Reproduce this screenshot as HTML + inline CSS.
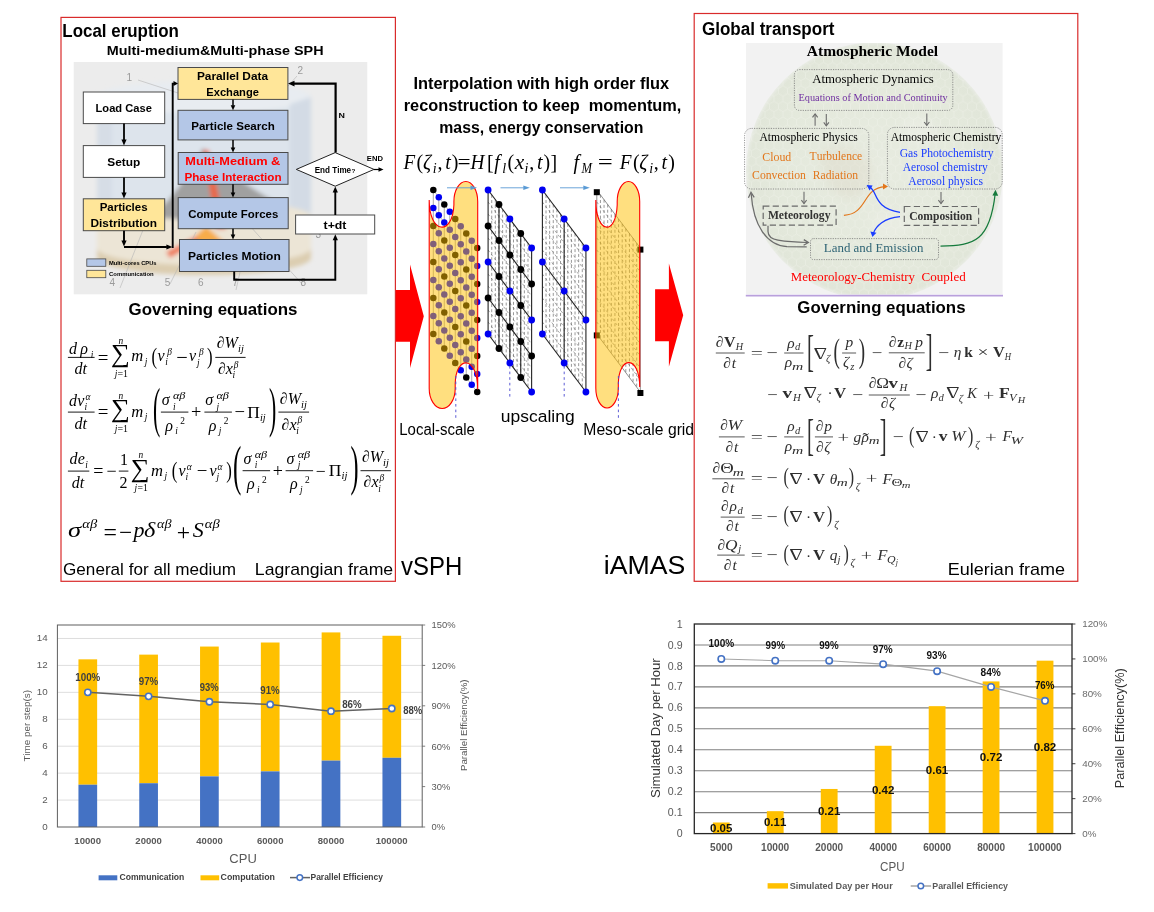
<!DOCTYPE html>
<html lang="en"><head><meta charset="utf-8"><title>vSPH - iAMAS coupling framework</title>
<style>
html,body{margin:0;padding:0;background:#fff;}
body{width:1154px;height:912px;overflow:hidden;font-family:"Liberation Sans","DejaVu Sans",sans-serif;}
svg{display:block;}
text{white-space:pre;font-kerning:none;}
</style></head>
<body>
<svg width="1154" height="912" viewBox="0 0 1154 912">
<defs>
<clipPath id="clipFlow"><rect x="73.5" y="62" width="294" height="232.6"/></clipPath>
<clipPath id="clipAtm"><rect x="745.8" y="43" width="257" height="251.4"/></clipPath>
<filter id="blur2" x="-10%" y="-10%" width="120%" height="120%"><feGaussianBlur stdDeviation="2.2"/></filter>
<filter id="blur3" x="-20%" y="-20%" width="140%" height="140%"><feGaussianBlur stdDeviation="5"/></filter>
<radialGradient id="globeGrad" cx="0.5" cy="0.5" r="0.5">
<stop offset="0" stop-color="#e7ebe0"/><stop offset="0.75" stop-color="#e4e9dc"/><stop offset="0.97" stop-color="#e1e6d9"/><stop offset="1" stop-color="#e9ece5"/>
</radialGradient>
<pattern id="hex" width="9" height="15.6" patternUnits="userSpaceOnUse">
<path d="M0,2.6 L4.5,0 L9,2.6 L9,7.8 L4.5,10.4 L0,7.8 Z M4.5,10.4 L4.5,15.6" fill="none" stroke="#f3f5ee" stroke-width="0.6"/>
</pattern>
</defs>
<rect x="0" y="0" width="1154" height="912" fill="#ffffff"/>
<path d="M394,290.1 L410,290.1 L410,264.5 L423.8,316.2 L410,367.9 L410,341.8 L394,341.8 Z" fill="#ff0000" />
<path d="M655.1,289.2 L668.9,289.2 L668.9,263.6 L683.2,315.2 L668.9,366.7 L668.9,341.2 L655.1,341.2 Z" fill="#ff0000" />
<rect x="61.00" y="17.40" width="334.40" height="563.90" fill="#fff" stroke="#d92b2b" stroke-width="1.2" />
<text transform="translate(62.37,37.20) scale(0.9513,1)" font-size="17.8" font-family='"Liberation Sans", "DejaVu Sans", sans-serif' fill="#000" font-weight="bold" >Local eruption</text>
<text transform="translate(106.74,55.30) scale(1.0718,1)" font-size="13.4" font-family='"Liberation Sans", "DejaVu Sans", sans-serif' fill="#000" font-weight="bold" >Multi-medium&amp;Multi-phase SPH</text>
<g clip-path="url(#clipFlow)">
<rect x="73.50" y="62.00" width="294.00" height="232.60" fill="#ececec" />
<g filter="url(#blur2)">
<path d="M97,97 L97,258 A107,17 0 0 0 311,258 L311,97 A107,16 0 0 0 97,97 Z" fill="#dde4ec" />
<ellipse cx="204" cy="97" rx="107" ry="16" fill="#e8ecf1"/>
<path d="M290,104 L311,97 L311,258 L290,268 Z" fill="#d3dbe5" />
<path d="M97,97 L112,106 L112,266 L97,258 Z" fill="#d6dde6" />
<path d="M97,216 A107,15 0 0 1 311,216 L311,258 A107,17 0 0 1 97,258 Z" fill="#ece5d6" />
<path d="M97,248 A107,17 0 0 0 311,248 L311,258 A107,17 0 0 1 97,258 Z" fill="#dccdb0" />
<path d="M150,217 Q178,196 203,148 Q244,188 288,208 Q240,226 150,217 Z" fill="#a0a0a0" />
<path d="M203,150 L209,150 L226,229 L216,229 Z" fill="#e8674a" />
<path d="M188,243 L206,226 L225,243 Z" fill="#f8ac48" />
<path d="M166,252 L196,236 L199,241 L170,258 Z" fill="#ef7d5e" />
</g>
<line x1="138.00" y1="80.00" x2="178.00" y2="93.00" stroke="#b5b5b5" stroke-width="0.6" />
<line x1="297.00" y1="76.00" x2="288.00" y2="86.00" stroke="#b5b5b5" stroke-width="0.6" />
<line x1="120.00" y1="288.00" x2="143.00" y2="230.00" stroke="#b5b5b5" stroke-width="0.6" />
<line x1="170.00" y1="284.00" x2="196.00" y2="232.00" stroke="#b5b5b5" stroke-width="0.6" />
<line x1="302.00" y1="284.00" x2="250.00" y2="226.00" stroke="#b5b5b5" stroke-width="0.6" />
<line x1="236.00" y1="290.00" x2="240.00" y2="272.00" stroke="#b5b5b5" stroke-width="0.6" />
</g>
<text x="126.50" y="80.50" font-size="10" font-family='"Liberation Sans", "DejaVu Sans", sans-serif' fill="#9a9a9a" >1</text>
<text x="297.50" y="73.80" font-size="10" font-family='"Liberation Sans", "DejaVu Sans", sans-serif' fill="#9a9a9a" >2</text>
<text x="109.50" y="285.80" font-size="10" font-family='"Liberation Sans", "DejaVu Sans", sans-serif' fill="#9a9a9a" >4</text>
<text x="164.80" y="285.80" font-size="10" font-family='"Liberation Sans", "DejaVu Sans", sans-serif' fill="#9a9a9a" >5</text>
<text x="198.00" y="285.80" font-size="10" font-family='"Liberation Sans", "DejaVu Sans", sans-serif' fill="#9a9a9a" >6</text>
<text x="232.50" y="285.80" font-size="10" font-family='"Liberation Sans", "DejaVu Sans", sans-serif' fill="#9a9a9a" >7</text>
<text x="300.50" y="285.80" font-size="10" font-family='"Liberation Sans", "DejaVu Sans", sans-serif' fill="#9a9a9a" >8</text>
<text x="315.50" y="238.20" font-size="10" font-family='"Liberation Sans", "DejaVu Sans", sans-serif' fill="#9a9a9a" >3</text>
<rect x="83.30" y="92.00" width="81.40" height="31.60" fill="#fff" stroke="#4a4a4a" stroke-width="1" />
<rect x="83.30" y="145.60" width="81.40" height="31.80" fill="#fff" stroke="#4a4a4a" stroke-width="1" />
<rect x="83.30" y="198.80" width="81.40" height="31.90" fill="#ffe699" stroke="#4a4a4a" stroke-width="1" />
<rect x="178.00" y="67.50" width="109.90" height="31.90" fill="#ffe699" stroke="#4a4a4a" stroke-width="1" />
<rect x="178.00" y="110.30" width="109.90" height="29.60" fill="#b4c7e7" stroke="#4a4a4a" stroke-width="1" />
<rect x="178.20" y="152.50" width="109.80" height="31.80" fill="#b4c7e7" stroke="#4a4a4a" stroke-width="1" />
<rect x="178.20" y="197.60" width="110.00" height="31.10" fill="#b4c7e7" stroke="#4a4a4a" stroke-width="1" />
<rect x="179.50" y="239.50" width="109.50" height="32.00" fill="#b4c7e7" stroke="#4a4a4a" stroke-width="1" />
<rect x="295.60" y="215.00" width="79.10" height="19.00" fill="#fff" stroke="#4a4a4a" stroke-width="1" />
<path d="M296.3,169.4 L335.2,152.6 L374,169.4 L335.2,186.2 Z" fill="#fff" stroke="#222" stroke-width="1" />
<rect x="86.80" y="258.90" width="19.00" height="7.40" fill="#b4c7e7" stroke="#4a4a4a" stroke-width="0.8" />
<rect x="86.80" y="270.30" width="19.00" height="7.40" fill="#ffe699" stroke="#4a4a4a" stroke-width="0.8" />
<text transform="translate(108.91,265.40) scale(1.0306,1)" font-size="5.6" font-family='"Liberation Sans", "DejaVu Sans", sans-serif' fill="#000" font-weight="bold" >Multi-cores CPUs</text>
<text transform="translate(109.06,275.60) scale(1.0591,1)" font-size="5.6" font-family='"Liberation Sans", "DejaVu Sans", sans-serif' fill="#000" font-weight="bold" >Communication</text>
<path d="M124.00,123.60 L124.00,139.90" fill="none" stroke="#000" stroke-width="1.8" stroke-linejoin="miter"/>
<path d="M124.00,145.40 L121.40,139.40 L126.60,139.40 Z" fill="#000"/>
<path d="M124.00,177.40 L124.00,193.10" fill="none" stroke="#000" stroke-width="1.8" stroke-linejoin="miter"/>
<path d="M124.00,198.60 L121.40,192.60 L126.60,192.60 Z" fill="#000"/>
<path d="M124.00,230.70 L124.00,241.10" fill="none" stroke="#000" stroke-width="1.9" stroke-linejoin="miter"/>
<path d="M124.00,246.60 L121.40,240.60 L126.60,240.60 Z" fill="#000"/>
<path d="M124.00,247.00 L166.90,247.00" fill="none" stroke="#000" stroke-width="1.9" stroke-linejoin="miter"/>
<path d="M172.40,247.00 L166.40,249.60 L166.40,244.40 Z" fill="#000"/>
<path d="M172.70,248.00 L172.70,83.60 L174.00,83.60" fill="none" stroke="#000" stroke-width="1.9" stroke-linejoin="miter"/>
<path d="M178.00,83.60 L173.50,86.10 L173.50,81.10 Z" fill="#000"/>
<path d="M233.00,99.40 L233.00,105.80" fill="none" stroke="#000" stroke-width="1.5" stroke-linejoin="miter"/>
<path d="M233.00,110.30 L230.70,105.30 L235.30,105.30 Z" fill="#000"/>
<path d="M233.00,139.90 L233.00,148.00" fill="none" stroke="#000" stroke-width="1.5" stroke-linejoin="miter"/>
<path d="M233.00,152.50 L230.70,147.50 L235.30,147.50 Z" fill="#000"/>
<path d="M233.00,184.30 L233.00,193.10" fill="none" stroke="#000" stroke-width="1.5" stroke-linejoin="miter"/>
<path d="M233.00,197.60 L230.70,192.60 L235.30,192.60 Z" fill="#000"/>
<path d="M233.00,228.70 L233.00,235.00" fill="none" stroke="#000" stroke-width="1.5" stroke-linejoin="miter"/>
<path d="M233.00,239.50 L230.70,234.50 L235.30,234.50 Z" fill="#000"/>
<path d="M234.20,271.50 L234.20,279.80 L335.30,279.80 L335.30,239.70" fill="none" stroke="#000" stroke-width="1.9" stroke-linejoin="miter"/>
<path d="M335.30,234.20 L337.90,240.20 L332.70,240.20 Z" fill="#000"/>
<path d="M335.30,215.00 L335.30,191.90" fill="none" stroke="#000" stroke-width="1.9" stroke-linejoin="miter"/>
<path d="M335.30,186.40 L337.90,192.40 L332.70,192.40 Z" fill="#000"/>
<path d="M335.60,152.60 L335.60,83.60 L294.00,83.60" fill="none" stroke="#000" stroke-width="2.2" stroke-linejoin="miter"/>
<path d="M288.00,83.60 L294.50,80.80 L294.50,86.40 Z" fill="#000"/>
<path d="M374.00,169.50 L379.00,169.50" fill="none" stroke="#000" stroke-width="1.2" stroke-linejoin="miter"/>
<path d="M383.50,169.50 L378.50,171.70 L378.50,167.30 Z" fill="#000"/>
<text transform="translate(95.55,112.30) scale(0.9603,1)" font-size="11.6" font-family='"Liberation Sans", "DejaVu Sans", sans-serif' fill="#000" font-weight="bold" >Load Case</text>
<text transform="translate(107.26,166.30) scale(1.0251,1)" font-size="11.6" font-family='"Liberation Sans", "DejaVu Sans", sans-serif' fill="#000" font-weight="bold" >Setup</text>
<text transform="translate(99.63,211.20) scale(0.9933,1)" font-size="11.6" font-family='"Liberation Sans", "DejaVu Sans", sans-serif' fill="#000" font-weight="bold" >Particles</text>
<text transform="translate(90.51,226.80) scale(1.0238,1)" font-size="11.6" font-family='"Liberation Sans", "DejaVu Sans", sans-serif' fill="#000" font-weight="bold" >Distribution</text>
<text transform="translate(196.91,79.70) scale(1.0217,1)" font-size="11.6" font-family='"Liberation Sans", "DejaVu Sans", sans-serif' fill="#000" font-weight="bold" >Parallel Data</text>
<text transform="translate(206.25,96.10) scale(0.9622,1)" font-size="11.6" font-family='"Liberation Sans", "DejaVu Sans", sans-serif' fill="#000" font-weight="bold" >Exchange</text>
<text transform="translate(191.23,129.60) scale(0.9974,1)" font-size="11.6" font-family='"Liberation Sans", "DejaVu Sans", sans-serif' fill="#000" font-weight="bold" >Particle Search</text>
<text transform="translate(185.35,165.40) scale(1.1004,1)" font-size="11.6" font-family='"Liberation Sans", "DejaVu Sans", sans-serif' fill="#f00" font-weight="bold" >Multi-Medium &amp;</text>
<text transform="translate(184.42,181.20) scale(1.0055,1)" font-size="11.6" font-family='"Liberation Sans", "DejaVu Sans", sans-serif' fill="#f00" font-weight="bold" >Phase Interaction</text>
<text transform="translate(188.13,217.80) scale(0.9861,1)" font-size="11.6" font-family='"Liberation Sans", "DejaVu Sans", sans-serif' fill="#000" font-weight="bold" >Compute Forces</text>
<text transform="translate(188.00,260.20) scale(1.0367,1)" font-size="11.6" font-family='"Liberation Sans", "DejaVu Sans", sans-serif' fill="#000" font-weight="bold" >Particles Motion</text>
<text transform="translate(323.55,228.70) scale(1.0609,1)" font-size="11.6" font-family='"Liberation Sans", "DejaVu Sans", sans-serif' fill="#000" font-weight="bold" >t+dt</text>
<text transform="translate(314.66,172.90) scale(0.9640,1)" font-size="8.4" font-family='"Liberation Sans", "DejaVu Sans", sans-serif' fill="#000" font-weight="bold" >End Time</text>
<text x="351.40" y="172.90" font-size="6.2" font-family='"Liberation Sans", "DejaVu Sans", sans-serif' fill="#000" font-weight="bold" >?</text>
<text transform="translate(366.79,161.00) scale(1.0325,1)" font-size="7.4" font-family='"Liberation Sans", "DejaVu Sans", sans-serif' fill="#000" font-weight="bold" >END</text>
<text transform="translate(338.61,117.60) scale(1.1953,1)" font-size="7.4" font-family='"Liberation Sans", "DejaVu Sans", sans-serif' fill="#000" font-weight="bold" >N</text>
<text transform="translate(128.61,315.40) scale(0.9822,1)" font-size="17.2" font-family='"Liberation Sans", "DejaVu Sans", sans-serif' fill="#000" font-weight="bold" >Governing equations</text>
<text transform="translate(63.04,574.60) scale(1.0442,1)" font-size="16.4" font-family='"Liberation Sans", "DejaVu Sans", sans-serif' fill="#000" >General for all medium</text>
<text transform="translate(254.85,574.60) scale(1.0768,1)" font-size="16.4" font-family='"Liberation Sans", "DejaVu Sans", sans-serif' fill="#000" >Lagrangian frame</text>
<text x="69.10" y="353.90" font-size="16" font-family='"Liberation Serif", "DejaVu Serif", serif' fill="#000" font-style="italic" >d</text>
<text x="80.20" y="353.90" font-size="16" font-family='"Liberation Serif", "DejaVu Serif", serif' fill="#000" font-style="italic" >ρ</text>
<text x="90.80" y="358.20" font-size="9.4" font-family='"Liberation Serif", "DejaVu Serif", serif' fill="#000" font-style="italic" >i</text>
<line x1="67.90" y1="357.40" x2="94.60" y2="357.40" stroke="#000" stroke-width="0.9" />
<text transform="translate(74.41,374.00) scale(1.0015,1)" font-size="16" font-family='"Liberation Serif", "DejaVu Serif", serif' fill="#000" font-style="italic" >dt</text>
<text transform="translate(97.66,363.68) scale(1.000,1.000)" font-size="18.91" font-family='"Liberation Serif", "DejaVu Serif", serif' fill="#000">=</text>
<text transform="translate(110.91,362.48) scale(1.063,1.037)" font-size="25.00" font-family='"Liberation Serif", "DejaVu Serif", serif' fill="#000">∑</text>
<text x="118.60" y="344.20" font-size="9.4" font-family='"Liberation Serif", "DejaVu Serif", serif' fill="#000" font-style="italic" >n</text>
<text x="114.70" y="376.60" font-size="9.4" font-family='"Liberation Serif", "DejaVu Serif", serif' fill="#000" font-style="italic" >j</text>
<text transform="translate(117.50,376.60) scale(1.0593,1)" font-size="9.4" font-family='"Liberation Serif", "DejaVu Serif", serif' fill="#000" >=1</text>
<text transform="translate(131.30,361.30) scale(1.0384,1)" font-size="16" font-family='"Liberation Serif", "DejaVu Serif", serif' fill="#000" font-style="italic" >m</text>
<text x="144.80" y="364.60" font-size="9.4" font-family='"Liberation Serif", "DejaVu Serif", serif' fill="#000" font-style="italic" >j</text>
<text transform="translate(151.56,364.01) scale(0.930,1.250)" font-size="18.00" font-family='"Liberation Serif", "DejaVu Serif", serif' fill="#000">(</text>
<text x="157.40" y="361.30" font-size="16" font-family='"Liberation Serif", "DejaVu Serif", serif' fill="#000" font-style="italic" >v</text>
<text x="167.30" y="355.40" font-size="9.4" font-family='"Liberation Serif", "DejaVu Serif", serif' fill="#000" font-style="italic" >β</text>
<text x="165.30" y="365.40" font-size="9.4" font-family='"Liberation Serif", "DejaVu Serif", serif' fill="#000" font-style="italic" >i</text>
<text transform="translate(176.18,364.18) scale(1.000,1.000)" font-size="20.42" font-family='"Liberation Serif", "DejaVu Serif", serif' fill="#000">−</text>
<text x="189.00" y="361.30" font-size="16" font-family='"Liberation Serif", "DejaVu Serif", serif' fill="#000" font-style="italic" >v</text>
<text x="198.90" y="355.40" font-size="9.4" font-family='"Liberation Serif", "DejaVu Serif", serif' fill="#000" font-style="italic" >β</text>
<text x="197.00" y="365.80" font-size="9.4" font-family='"Liberation Serif", "DejaVu Serif", serif' fill="#000" font-style="italic" >j</text>
<text transform="translate(207.06,364.01) scale(0.930,1.250)" font-size="18.00" font-family='"Liberation Serif", "DejaVu Serif", serif' fill="#000">)</text>
<text x="216.70" y="348.30" font-size="16" font-family='"Liberation Serif", "DejaVu Serif", serif' fill="#000" font-style="italic" >∂</text>
<text x="224.60" y="348.30" font-size="16" font-family='"Liberation Serif", "DejaVu Serif", serif' fill="#000" font-style="italic" >W</text>
<text transform="translate(238.01,352.00) scale(1.1184,1)" font-size="9.4" font-family='"Liberation Serif", "DejaVu Serif", serif' fill="#000" font-style="italic" >ij</text>
<line x1="215.30" y1="357.40" x2="245.60" y2="357.40" stroke="#000" stroke-width="0.9" />
<text x="217.90" y="374.00" font-size="16" font-family='"Liberation Serif", "DejaVu Serif", serif' fill="#000" font-style="italic" >∂</text>
<text x="225.80" y="374.00" font-size="16" font-family='"Liberation Serif", "DejaVu Serif", serif' fill="#000" font-style="italic" >x</text>
<text x="233.80" y="367.60" font-size="9.4" font-family='"Liberation Serif", "DejaVu Serif", serif' fill="#000" font-style="italic" >β</text>
<text x="232.60" y="378.20" font-size="9.4" font-family='"Liberation Serif", "DejaVu Serif", serif' fill="#000" font-style="italic" >i</text>
<text x="69.10" y="406.20" font-size="16" font-family='"Liberation Serif", "DejaVu Serif", serif' fill="#000" font-style="italic" >d</text>
<text x="77.20" y="406.20" font-size="16" font-family='"Liberation Serif", "DejaVu Serif", serif' fill="#000" font-style="italic" >v</text>
<text x="85.60" y="400.40" font-size="9.4" font-family='"Liberation Serif", "DejaVu Serif", serif' fill="#000" font-style="italic" >α</text>
<text x="84.40" y="410.40" font-size="9.4" font-family='"Liberation Serif", "DejaVu Serif", serif' fill="#000" font-style="italic" >i</text>
<line x1="67.90" y1="412.10" x2="94.60" y2="412.10" stroke="#000" stroke-width="0.9" />
<text transform="translate(74.41,429.30) scale(1.0015,1)" font-size="16" font-family='"Liberation Serif", "DejaVu Serif", serif' fill="#000" font-style="italic" >dt</text>
<text transform="translate(97.66,418.38) scale(1.000,1.000)" font-size="18.91" font-family='"Liberation Serif", "DejaVu Serif", serif' fill="#000">=</text>
<text transform="translate(110.91,417.43) scale(1.063,1.028)" font-size="25.00" font-family='"Liberation Serif", "DejaVu Serif", serif' fill="#000">∑</text>
<text x="118.60" y="399.40" font-size="9.4" font-family='"Liberation Serif", "DejaVu Serif", serif' fill="#000" font-style="italic" >n</text>
<text x="114.70" y="431.80" font-size="9.4" font-family='"Liberation Serif", "DejaVu Serif", serif' fill="#000" font-style="italic" >j</text>
<text transform="translate(117.50,431.80) scale(1.0593,1)" font-size="9.4" font-family='"Liberation Serif", "DejaVu Serif", serif' fill="#000" >=1</text>
<text transform="translate(131.30,416.60) scale(1.0384,1)" font-size="16" font-family='"Liberation Serif", "DejaVu Serif", serif' fill="#000" font-style="italic" >m</text>
<text x="144.80" y="420.00" font-size="9.4" font-family='"Liberation Serif", "DejaVu Serif", serif' fill="#000" font-style="italic" >j</text>
<text transform="translate(153.04,425.67) scale(0.991,2.461)" font-size="22.00" font-family='"Liberation Serif", "DejaVu Serif", serif' fill="#000">(</text>
<text x="161.80" y="405.40" font-size="16" font-family='"Liberation Serif", "DejaVu Serif", serif' fill="#000" font-style="italic" >σ</text>
<text transform="translate(172.94,399.20) scale(1.2980,1)" font-size="9.4" font-family='"Liberation Serif", "DejaVu Serif", serif' fill="#000" font-style="italic" >αβ</text>
<text x="173.10" y="409.60" font-size="9.4" font-family='"Liberation Serif", "DejaVu Serif", serif' fill="#000" font-style="italic" >i</text>
<line x1="160.90" y1="412.10" x2="188.40" y2="412.10" stroke="#000" stroke-width="0.9" />
<text x="165.30" y="430.60" font-size="16" font-family='"Liberation Serif", "DejaVu Serif", serif' fill="#000" font-style="italic" >ρ</text>
<text x="175.30" y="434.40" font-size="9.4" font-family='"Liberation Serif", "DejaVu Serif", serif' fill="#000" font-style="italic" >i</text>
<text x="180.20" y="424.40" font-size="9.4" font-family='"Liberation Serif", "DejaVu Serif", serif' fill="#000" >2</text>
<text transform="translate(190.99,418.17) scale(1.000,1.000)" font-size="18.27" font-family='"Liberation Serif", "DejaVu Serif", serif' fill="#000">+</text>
<text x="205.30" y="405.40" font-size="16" font-family='"Liberation Serif", "DejaVu Serif", serif' fill="#000" font-style="italic" >σ</text>
<text transform="translate(216.44,399.20) scale(1.2980,1)" font-size="9.4" font-family='"Liberation Serif", "DejaVu Serif", serif' fill="#000" font-style="italic" >αβ</text>
<text x="216.60" y="409.60" font-size="9.4" font-family='"Liberation Serif", "DejaVu Serif", serif' fill="#000" font-style="italic" >j</text>
<line x1="204.40" y1="412.10" x2="231.90" y2="412.10" stroke="#000" stroke-width="0.9" />
<text x="208.80" y="430.60" font-size="16" font-family='"Liberation Serif", "DejaVu Serif", serif' fill="#000" font-style="italic" >ρ</text>
<text x="218.80" y="434.40" font-size="9.4" font-family='"Liberation Serif", "DejaVu Serif", serif' fill="#000" font-style="italic" >j</text>
<text x="223.70" y="424.40" font-size="9.4" font-family='"Liberation Serif", "DejaVu Serif", serif' fill="#000" >2</text>
<text transform="translate(234.57,418.31) scale(1.000,1.000)" font-size="18.70" font-family='"Liberation Serif", "DejaVu Serif", serif' fill="#000">−</text>
<text transform="translate(247.20,418.10) scale(1.0918,1)" font-size="16" font-family='"Liberation Serif", "DejaVu Serif", serif' fill="#000" >Π</text>
<text transform="translate(259.93,421.40) scale(1.0961,1)" font-size="9.4" font-family='"Liberation Serif", "DejaVu Serif", serif' fill="#000" font-style="italic" >ij</text>
<text transform="translate(269.10,425.67) scale(0.991,2.461)" font-size="22.00" font-family='"Liberation Serif", "DejaVu Serif", serif' fill="#000">)</text>
<text x="279.80" y="404.00" font-size="16" font-family='"Liberation Serif", "DejaVu Serif", serif' fill="#000" font-style="italic" >∂</text>
<text x="287.70" y="404.00" font-size="16" font-family='"Liberation Serif", "DejaVu Serif", serif' fill="#000" font-style="italic" >W</text>
<text transform="translate(301.01,407.60) scale(1.1184,1)" font-size="9.4" font-family='"Liberation Serif", "DejaVu Serif", serif' fill="#000" font-style="italic" >ij</text>
<line x1="278.40" y1="412.10" x2="309.10" y2="412.10" stroke="#000" stroke-width="0.9" />
<text x="281.60" y="429.50" font-size="16" font-family='"Liberation Serif", "DejaVu Serif", serif' fill="#000" font-style="italic" >∂</text>
<text x="289.50" y="429.50" font-size="16" font-family='"Liberation Serif", "DejaVu Serif", serif' fill="#000" font-style="italic" >x</text>
<text x="297.50" y="423.20" font-size="9.4" font-family='"Liberation Serif", "DejaVu Serif", serif' fill="#000" font-style="italic" >β</text>
<text x="296.30" y="433.80" font-size="9.4" font-family='"Liberation Serif", "DejaVu Serif", serif' fill="#000" font-style="italic" >i</text>
<text x="69.60" y="464.40" font-size="16" font-family='"Liberation Serif", "DejaVu Serif", serif' fill="#000" font-style="italic" >d</text>
<text x="77.80" y="464.40" font-size="16" font-family='"Liberation Serif", "DejaVu Serif", serif' fill="#000" font-style="italic" >e</text>
<text x="85.20" y="467.60" font-size="9.4" font-family='"Liberation Serif", "DejaVu Serif", serif' fill="#000" font-style="italic" >i</text>
<line x1="67.90" y1="471.10" x2="89.30" y2="471.10" stroke="#000" stroke-width="0.9" />
<text transform="translate(71.81,487.80) scale(1.0015,1)" font-size="16" font-family='"Liberation Serif", "DejaVu Serif", serif' fill="#000" font-style="italic" >dt</text>
<text transform="translate(93.30,477.09) scale(1.000,1.000)" font-size="18.05" font-family='"Liberation Serif", "DejaVu Serif", serif' fill="#000">=</text>
<text transform="translate(106.50,477.09) scale(1.000,1.000)" font-size="18.05" font-family='"Liberation Serif", "DejaVu Serif", serif' fill="#000">−</text>
<text x="120.00" y="465.00" font-size="16" font-family='"Liberation Serif", "DejaVu Serif", serif' fill="#000" >1</text>
<line x1="118.80" y1="471.10" x2="128.40" y2="471.10" stroke="#000" stroke-width="0.9" />
<text x="119.60" y="487.80" font-size="16" font-family='"Liberation Serif", "DejaVu Serif", serif' fill="#000" >2</text>
<text transform="translate(130.71,476.53) scale(1.057,1.028)" font-size="25.00" font-family='"Liberation Serif", "DejaVu Serif", serif' fill="#000">∑</text>
<text x="138.60" y="458.20" font-size="9.4" font-family='"Liberation Serif", "DejaVu Serif", serif' fill="#000" font-style="italic" >n</text>
<text x="134.60" y="490.80" font-size="9.4" font-family='"Liberation Serif", "DejaVu Serif", serif' fill="#000" font-style="italic" >j</text>
<text transform="translate(137.51,490.80) scale(1.0370,1)" font-size="9.4" font-family='"Liberation Serif", "DejaVu Serif", serif' fill="#000" >=1</text>
<text transform="translate(151.00,475.50) scale(1.0384,1)" font-size="16" font-family='"Liberation Serif", "DejaVu Serif", serif' fill="#000" font-style="italic" >m</text>
<text x="164.60" y="478.80" font-size="9.4" font-family='"Liberation Serif", "DejaVu Serif", serif' fill="#000" font-style="italic" >j</text>
<text transform="translate(171.76,478.07) scale(0.930,1.287)" font-size="18.00" font-family='"Liberation Serif", "DejaVu Serif", serif' fill="#000">(</text>
<text x="178.40" y="475.50" font-size="16" font-family='"Liberation Serif", "DejaVu Serif", serif' fill="#000" font-style="italic" >v</text>
<text x="186.80" y="469.60" font-size="9.4" font-family='"Liberation Serif", "DejaVu Serif", serif' fill="#000" font-style="italic" >α</text>
<text x="185.60" y="479.60" font-size="9.4" font-family='"Liberation Serif", "DejaVu Serif", serif' fill="#000" font-style="italic" >i</text>
<text transform="translate(196.76,477.38) scale(1.000,1.000)" font-size="18.91" font-family='"Liberation Serif", "DejaVu Serif", serif' fill="#000">−</text>
<text x="209.40" y="475.50" font-size="16" font-family='"Liberation Serif", "DejaVu Serif", serif' fill="#000" font-style="italic" >v</text>
<text x="217.60" y="469.60" font-size="9.4" font-family='"Liberation Serif", "DejaVu Serif", serif' fill="#000" font-style="italic" >α</text>
<text x="216.40" y="480.00" font-size="9.4" font-family='"Liberation Serif", "DejaVu Serif", serif' fill="#000" font-style="italic" >j</text>
<text transform="translate(226.16,478.07) scale(0.930,1.287)" font-size="18.00" font-family='"Liberation Serif", "DejaVu Serif", serif' fill="#000">)</text>
<text transform="translate(232.90,483.91) scale(1.133,2.496)" font-size="22.00" font-family='"Liberation Serif", "DejaVu Serif", serif' fill="#000">(</text>
<text x="243.50" y="464.00" font-size="16" font-family='"Liberation Serif", "DejaVu Serif", serif' fill="#000" font-style="italic" >σ</text>
<text transform="translate(254.64,457.80) scale(1.2980,1)" font-size="9.4" font-family='"Liberation Serif", "DejaVu Serif", serif' fill="#000" font-style="italic" >αβ</text>
<text x="254.80" y="468.20" font-size="9.4" font-family='"Liberation Serif", "DejaVu Serif", serif' fill="#000" font-style="italic" >i</text>
<line x1="242.60" y1="470.70" x2="270.10" y2="470.70" stroke="#000" stroke-width="0.9" />
<text x="247.00" y="489.20" font-size="16" font-family='"Liberation Serif", "DejaVu Serif", serif' fill="#000" font-style="italic" >ρ</text>
<text x="257.00" y="493.00" font-size="9.4" font-family='"Liberation Serif", "DejaVu Serif", serif' fill="#000" font-style="italic" >i</text>
<text x="261.90" y="483.00" font-size="9.4" font-family='"Liberation Serif", "DejaVu Serif", serif' fill="#000" >2</text>
<text transform="translate(272.80,476.69) scale(1.000,1.000)" font-size="18.05" font-family='"Liberation Serif", "DejaVu Serif", serif' fill="#000">+</text>
<text x="286.50" y="464.00" font-size="16" font-family='"Liberation Serif", "DejaVu Serif", serif' fill="#000" font-style="italic" >σ</text>
<text transform="translate(297.64,457.80) scale(1.2980,1)" font-size="9.4" font-family='"Liberation Serif", "DejaVu Serif", serif' fill="#000" font-style="italic" >αβ</text>
<text x="297.80" y="468.20" font-size="9.4" font-family='"Liberation Serif", "DejaVu Serif", serif' fill="#000" font-style="italic" >j</text>
<line x1="285.60" y1="470.70" x2="313.10" y2="470.70" stroke="#000" stroke-width="0.9" />
<text x="290.00" y="489.20" font-size="16" font-family='"Liberation Serif", "DejaVu Serif", serif' fill="#000" font-style="italic" >ρ</text>
<text x="300.00" y="493.00" font-size="9.4" font-family='"Liberation Serif", "DejaVu Serif", serif' fill="#000" font-style="italic" >j</text>
<text x="304.90" y="483.00" font-size="9.4" font-family='"Liberation Serif", "DejaVu Serif", serif' fill="#000" >2</text>
<text transform="translate(315.82,476.55) scale(1.000,1.000)" font-size="17.62" font-family='"Liberation Serif", "DejaVu Serif", serif' fill="#000">−</text>
<text transform="translate(328.80,475.60) scale(1.0918,1)" font-size="16" font-family='"Liberation Serif", "DejaVu Serif", serif' fill="#000" >Π</text>
<text transform="translate(341.50,479.00) scale(1.1408,1)" font-size="9.4" font-family='"Liberation Serif", "DejaVu Serif", serif' fill="#000" font-style="italic" >ij</text>
<text transform="translate(350.42,483.91) scale(1.097,2.496)" font-size="22.00" font-family='"Liberation Serif", "DejaVu Serif", serif' fill="#000">)</text>
<text x="361.90" y="462.00" font-size="16" font-family='"Liberation Serif", "DejaVu Serif", serif' fill="#000" font-style="italic" >∂</text>
<text x="369.80" y="462.00" font-size="16" font-family='"Liberation Serif", "DejaVu Serif", serif' fill="#000" font-style="italic" >W</text>
<text transform="translate(383.01,465.60) scale(1.1184,1)" font-size="9.4" font-family='"Liberation Serif", "DejaVu Serif", serif' fill="#000" font-style="italic" >ij</text>
<line x1="360.50" y1="470.70" x2="390.90" y2="470.70" stroke="#000" stroke-width="0.9" />
<text x="363.60" y="487.40" font-size="16" font-family='"Liberation Serif", "DejaVu Serif", serif' fill="#000" font-style="italic" >∂</text>
<text x="371.50" y="487.40" font-size="16" font-family='"Liberation Serif", "DejaVu Serif", serif' fill="#000" font-style="italic" >x</text>
<text x="379.50" y="481.20" font-size="9.4" font-family='"Liberation Serif", "DejaVu Serif", serif' fill="#000" font-style="italic" >β</text>
<text x="378.30" y="491.80" font-size="9.4" font-family='"Liberation Serif", "DejaVu Serif", serif' fill="#000" font-style="italic" >i</text>
<text transform="translate(68.01,536.90) scale(1.2027,1)" font-size="22" font-family='"Liberation Serif", "DejaVu Serif", serif' fill="#000" font-style="italic" >σ</text>
<text transform="translate(82.37,528.10) scale(1.1344,1)" font-size="12.8" font-family='"Liberation Serif", "DejaVu Serif", serif' fill="#000" font-style="italic" >αβ</text>
<text transform="translate(103.51,540.42) scale(1.000,1.000)" font-size="23.85" font-family='"Liberation Serif", "DejaVu Serif", serif' fill="#000">=</text>
<text transform="translate(119.04,540.21) scale(1.000,1.000)" font-size="23.21" font-family='"Liberation Serif", "DejaVu Serif", serif' fill="#000">−</text>
<text x="133.40" y="536.90" font-size="22" font-family='"Liberation Serif", "DejaVu Serif", serif' fill="#000" font-style="italic" >p</text>
<text transform="translate(143.99,536.90) scale(1.1041,1)" font-size="22" font-family='"Liberation Serif", "DejaVu Serif", serif' fill="#000" font-style="italic" >δ</text>
<text transform="translate(156.98,528.10) scale(1.1029,1)" font-size="12.8" font-family='"Liberation Serif", "DejaVu Serif", serif' fill="#000" font-style="italic" >αβ</text>
<text transform="translate(176.72,540.35) scale(1.000,1.000)" font-size="23.64" font-family='"Liberation Serif", "DejaVu Serif", serif' fill="#000">+</text>
<text transform="translate(192.74,536.90) scale(1.0012,1)" font-size="22" font-family='"Liberation Serif", "DejaVu Serif", serif' fill="#000" font-style="italic" >S</text>
<text transform="translate(204.77,528.10) scale(1.1344,1)" font-size="12.8" font-family='"Liberation Serif", "DejaVu Serif", serif' fill="#000" font-style="italic" >αβ</text>
<text transform="translate(413.50,88.70) scale(0.9997,1)" font-size="16.4" font-family='"Liberation Sans", "DejaVu Sans", sans-serif' fill="#000" font-weight="bold" >Interpolation with high order flux</text>
<text transform="translate(403.72,110.90) scale(0.9966,1)" font-size="16.4" font-family='"Liberation Sans", "DejaVu Sans", sans-serif' fill="#000" font-weight="bold" >reconstruction to keep  momentum,</text>
<text transform="translate(439.26,132.50) scale(0.9661,1)" font-size="16.4" font-family='"Liberation Sans", "DejaVu Sans", sans-serif' fill="#000" font-weight="bold" >mass, energy conservation</text>
<text transform="translate(403.40,168.60) scale(0.9527,1)" font-size="20" font-family='"Liberation Serif", "DejaVu Serif", serif' fill="#000" font-style="italic" >F</text>
<text x="416.60" y="168.60" font-size="20" font-family='"Liberation Serif", "DejaVu Serif", serif' fill="#000" >(</text>
<text transform="translate(422.95,168.60) scale(1.0030,1)" font-size="20" font-family='"Liberation Serif", "DejaVu Serif", serif' fill="#000" font-style="italic" >ζ</text>
<text x="432.80" y="172.60" font-size="14" font-family='"Liberation Serif", "DejaVu Serif", serif' fill="#000" font-style="italic" >i</text>
<text x="437.40" y="168.60" font-size="20" font-family='"Liberation Serif", "DejaVu Serif", serif' fill="#000" >,</text>
<text x="445.20" y="168.60" font-size="20" font-family='"Liberation Serif", "DejaVu Serif", serif' fill="#000" font-style="italic" >t</text>
<text x="451.80" y="168.60" font-size="20" font-family='"Liberation Serif", "DejaVu Serif", serif' fill="#000" >)</text>
<text transform="translate(457.44,168.60) scale(1.1605,1)" font-size="20" font-family='"Liberation Serif", "DejaVu Serif", serif' fill="#000" >=</text>
<text transform="translate(470.61,168.60) scale(0.9642,1)" font-size="20" font-family='"Liberation Serif", "DejaVu Serif", serif' fill="#000" font-style="italic" >H</text>
<text x="487.00" y="168.60" font-size="20" font-family='"Liberation Serif", "DejaVu Serif", serif' fill="#000" >[</text>
<text x="494.20" y="168.60" font-size="20" font-family='"Liberation Serif", "DejaVu Serif", serif' fill="#000" font-style="italic" >f</text>
<text x="502.20" y="172.60" font-size="14" font-family='"Liberation Serif", "DejaVu Serif", serif' fill="#000" font-style="italic" >l</text>
<text x="507.40" y="168.60" font-size="20" font-family='"Liberation Serif", "DejaVu Serif", serif' fill="#000" >(</text>
<text transform="translate(514.66,168.60) scale(1.0697,1)" font-size="20" font-family='"Liberation Serif", "DejaVu Serif", serif' fill="#000" font-style="italic" >x</text>
<text x="524.60" y="172.60" font-size="14" font-family='"Liberation Serif", "DejaVu Serif", serif' fill="#000" font-style="italic" >i</text>
<text x="529.20" y="168.60" font-size="20" font-family='"Liberation Serif", "DejaVu Serif", serif' fill="#000" >,</text>
<text x="537.00" y="168.60" font-size="20" font-family='"Liberation Serif", "DejaVu Serif", serif' fill="#000" font-style="italic" >t</text>
<text x="543.40" y="168.60" font-size="20" font-family='"Liberation Serif", "DejaVu Serif", serif' fill="#000" >)</text>
<text x="550.40" y="168.60" font-size="20" font-family='"Liberation Serif", "DejaVu Serif", serif' fill="#000" >]</text>
<text x="573.40" y="168.60" font-size="20" font-family='"Liberation Serif", "DejaVu Serif", serif' fill="#000" font-style="italic" >f</text>
<text transform="translate(581.55,172.60) scale(0.8982,1)" font-size="14" font-family='"Liberation Serif", "DejaVu Serif", serif' fill="#000" font-style="italic" >M</text>
<text transform="translate(597.87,168.60) scale(1.3324,1)" font-size="20" font-family='"Liberation Serif", "DejaVu Serif", serif' fill="#000" >=</text>
<text transform="translate(619.70,168.60) scale(0.9608,1)" font-size="20" font-family='"Liberation Serif", "DejaVu Serif", serif' fill="#000" font-style="italic" >F</text>
<text x="633.00" y="168.60" font-size="20" font-family='"Liberation Serif", "DejaVu Serif", serif' fill="#000" >(</text>
<text transform="translate(639.35,168.60) scale(1.0030,1)" font-size="20" font-family='"Liberation Serif", "DejaVu Serif", serif' fill="#000" font-style="italic" >ζ</text>
<text x="649.20" y="172.60" font-size="14" font-family='"Liberation Serif", "DejaVu Serif", serif' fill="#000" font-style="italic" >i</text>
<text x="653.80" y="168.60" font-size="20" font-family='"Liberation Serif", "DejaVu Serif", serif' fill="#000" >,</text>
<text x="661.60" y="168.60" font-size="20" font-family='"Liberation Serif", "DejaVu Serif", serif' fill="#000" font-style="italic" >t</text>
<text x="668.20" y="168.60" font-size="20" font-family='"Liberation Serif", "DejaVu Serif", serif' fill="#000" >)</text>
<line x1="433.30" y1="190.00" x2="433.30" y2="334.00" stroke="#555" stroke-width="0.5" />
<line x1="438.79" y1="197.25" x2="438.79" y2="341.25" stroke="#555" stroke-width="0.5" />
<line x1="444.28" y1="204.50" x2="444.28" y2="348.50" stroke="#555" stroke-width="0.5" />
<line x1="449.77" y1="211.75" x2="449.77" y2="355.75" stroke="#555" stroke-width="0.5" />
<line x1="455.26" y1="219.00" x2="455.26" y2="363.00" stroke="#555" stroke-width="0.5" />
<line x1="460.75" y1="226.25" x2="460.75" y2="370.25" stroke="#555" stroke-width="0.5" />
<line x1="466.24" y1="233.50" x2="466.24" y2="377.50" stroke="#555" stroke-width="0.5" />
<line x1="471.73" y1="240.75" x2="471.73" y2="384.75" stroke="#555" stroke-width="0.5" />
<line x1="477.22" y1="248.00" x2="477.22" y2="392.00" stroke="#555" stroke-width="0.5" />
<line x1="433.30" y1="190.00" x2="477.22" y2="248.00" stroke="#555" stroke-width="0.4" />
<line x1="433.30" y1="208.00" x2="477.22" y2="266.00" stroke="#555" stroke-width="0.4" />
<line x1="433.30" y1="226.00" x2="477.22" y2="284.00" stroke="#555" stroke-width="0.4" />
<line x1="433.30" y1="244.00" x2="477.22" y2="302.00" stroke="#555" stroke-width="0.4" />
<line x1="433.30" y1="262.00" x2="477.22" y2="320.00" stroke="#555" stroke-width="0.4" />
<line x1="433.30" y1="280.00" x2="477.22" y2="338.00" stroke="#555" stroke-width="0.4" />
<line x1="433.30" y1="298.00" x2="477.22" y2="356.00" stroke="#555" stroke-width="0.4" />
<line x1="433.30" y1="316.00" x2="477.22" y2="374.00" stroke="#555" stroke-width="0.4" />
<line x1="433.30" y1="334.00" x2="477.22" y2="392.00" stroke="#555" stroke-width="0.4" />
<circle cx="433.30" cy="190.00" r="3.25" fill="#000" />
<circle cx="433.30" cy="208.00" r="3.25" fill="#0000f2" />
<circle cx="433.30" cy="226.00" r="3.25" fill="#000" />
<circle cx="433.30" cy="244.00" r="3.25" fill="#0000f2" />
<circle cx="433.30" cy="262.00" r="3.25" fill="#000" />
<circle cx="433.30" cy="280.00" r="3.25" fill="#0000f2" />
<circle cx="433.30" cy="298.00" r="3.25" fill="#000" />
<circle cx="433.30" cy="316.00" r="3.25" fill="#0000f2" />
<circle cx="433.30" cy="334.00" r="3.25" fill="#000" />
<circle cx="438.79" cy="197.25" r="3.25" fill="#0000f2" />
<circle cx="438.79" cy="215.25" r="3.25" fill="#0000f2" />
<circle cx="438.79" cy="233.25" r="3.25" fill="#0000f2" />
<circle cx="438.79" cy="251.25" r="3.25" fill="#0000f2" />
<circle cx="438.79" cy="269.25" r="3.25" fill="#0000f2" />
<circle cx="438.79" cy="287.25" r="3.25" fill="#0000f2" />
<circle cx="438.79" cy="305.25" r="3.25" fill="#0000f2" />
<circle cx="438.79" cy="323.25" r="3.25" fill="#0000f2" />
<circle cx="438.79" cy="341.25" r="3.25" fill="#0000f2" />
<circle cx="444.28" cy="204.50" r="3.25" fill="#000" />
<circle cx="444.28" cy="222.50" r="3.25" fill="#0000f2" />
<circle cx="444.28" cy="240.50" r="3.25" fill="#000" />
<circle cx="444.28" cy="258.50" r="3.25" fill="#0000f2" />
<circle cx="444.28" cy="276.50" r="3.25" fill="#000" />
<circle cx="444.28" cy="294.50" r="3.25" fill="#0000f2" />
<circle cx="444.28" cy="312.50" r="3.25" fill="#000" />
<circle cx="444.28" cy="330.50" r="3.25" fill="#0000f2" />
<circle cx="444.28" cy="348.50" r="3.25" fill="#000" />
<circle cx="449.77" cy="211.75" r="3.25" fill="#0000f2" />
<circle cx="449.77" cy="229.75" r="3.25" fill="#0000f2" />
<circle cx="449.77" cy="247.75" r="3.25" fill="#0000f2" />
<circle cx="449.77" cy="265.75" r="3.25" fill="#0000f2" />
<circle cx="449.77" cy="283.75" r="3.25" fill="#0000f2" />
<circle cx="449.77" cy="301.75" r="3.25" fill="#0000f2" />
<circle cx="449.77" cy="319.75" r="3.25" fill="#0000f2" />
<circle cx="449.77" cy="337.75" r="3.25" fill="#0000f2" />
<circle cx="449.77" cy="355.75" r="3.25" fill="#0000f2" />
<circle cx="455.26" cy="219.00" r="3.25" fill="#000" />
<circle cx="455.26" cy="237.00" r="3.25" fill="#0000f2" />
<circle cx="455.26" cy="255.00" r="3.25" fill="#000" />
<circle cx="455.26" cy="273.00" r="3.25" fill="#0000f2" />
<circle cx="455.26" cy="291.00" r="3.25" fill="#000" />
<circle cx="455.26" cy="309.00" r="3.25" fill="#0000f2" />
<circle cx="455.26" cy="327.00" r="3.25" fill="#000" />
<circle cx="455.26" cy="345.00" r="3.25" fill="#0000f2" />
<circle cx="455.26" cy="363.00" r="3.25" fill="#000" />
<circle cx="460.75" cy="226.25" r="3.25" fill="#0000f2" />
<circle cx="460.75" cy="244.25" r="3.25" fill="#0000f2" />
<circle cx="460.75" cy="262.25" r="3.25" fill="#0000f2" />
<circle cx="460.75" cy="280.25" r="3.25" fill="#0000f2" />
<circle cx="460.75" cy="298.25" r="3.25" fill="#0000f2" />
<circle cx="460.75" cy="316.25" r="3.25" fill="#0000f2" />
<circle cx="460.75" cy="334.25" r="3.25" fill="#0000f2" />
<circle cx="460.75" cy="352.25" r="3.25" fill="#0000f2" />
<circle cx="460.75" cy="370.25" r="3.25" fill="#0000f2" />
<circle cx="466.24" cy="233.50" r="3.25" fill="#000" />
<circle cx="466.24" cy="251.50" r="3.25" fill="#0000f2" />
<circle cx="466.24" cy="269.50" r="3.25" fill="#000" />
<circle cx="466.24" cy="287.50" r="3.25" fill="#0000f2" />
<circle cx="466.24" cy="305.50" r="3.25" fill="#000" />
<circle cx="466.24" cy="323.50" r="3.25" fill="#0000f2" />
<circle cx="466.24" cy="341.50" r="3.25" fill="#000" />
<circle cx="466.24" cy="359.50" r="3.25" fill="#0000f2" />
<circle cx="466.24" cy="377.50" r="3.25" fill="#000" />
<circle cx="471.73" cy="240.75" r="3.25" fill="#0000f2" />
<circle cx="471.73" cy="258.75" r="3.25" fill="#0000f2" />
<circle cx="471.73" cy="276.75" r="3.25" fill="#0000f2" />
<circle cx="471.73" cy="294.75" r="3.25" fill="#0000f2" />
<circle cx="471.73" cy="312.75" r="3.25" fill="#0000f2" />
<circle cx="471.73" cy="330.75" r="3.25" fill="#0000f2" />
<circle cx="471.73" cy="348.75" r="3.25" fill="#0000f2" />
<circle cx="471.73" cy="366.75" r="3.25" fill="#0000f2" />
<circle cx="471.73" cy="384.75" r="3.25" fill="#0000f2" />
<circle cx="477.22" cy="248.00" r="3.25" fill="#000" />
<circle cx="477.22" cy="266.00" r="3.25" fill="#0000f2" />
<circle cx="477.22" cy="284.00" r="3.25" fill="#000" />
<circle cx="477.22" cy="302.00" r="3.25" fill="#0000f2" />
<circle cx="477.22" cy="320.00" r="3.25" fill="#000" />
<circle cx="477.22" cy="338.00" r="3.25" fill="#0000f2" />
<circle cx="477.22" cy="356.00" r="3.25" fill="#000" />
<circle cx="477.22" cy="374.00" r="3.25" fill="#0000f2" />
<circle cx="477.22" cy="392.00" r="3.25" fill="#000" />
<path d="M429.2,200 C429.2,234.5 452.6,236 453.9,205 L453.9,201.5 A11.9,20 0 0 1 477.7,201.5 L477.7,389.4 C477.7,355 455.6,355 455.2,384 L455.2,388.5 A13,20 0 0 1 429.2,388.5 Z" fill="#ffc000" stroke="none" stroke-width="1" fill-opacity="0.5"/>
<path d="M429.2,200 C429.2,234.5 452.6,236 453.9,205 L453.9,201.5 A11.9,20 0 0 1 477.7,201.5 L477.7,389.4 C477.7,355 455.6,355 455.2,384 L455.2,388.5 A13,20 0 0 1 429.2,388.5 Z" fill="none" stroke="#ff0000" stroke-width="1.1" />
<line x1="455.80" y1="376.00" x2="455.80" y2="418.00" stroke="#4a4ad0" stroke-width="0.9" stroke-dasharray="2.6 3"/>
<line x1="491.73" y1="194.83" x2="491.73" y2="338.83" stroke="#444" stroke-width="0.55" stroke-dasharray="3 2.2"/>
<line x1="495.35" y1="199.67" x2="495.35" y2="343.67" stroke="#444" stroke-width="0.55" stroke-dasharray="3 2.2"/>
<line x1="498.98" y1="204.50" x2="498.98" y2="348.50" stroke="#444" stroke-width="0.55" stroke-dasharray="3 2.2"/>
<line x1="502.61" y1="209.33" x2="502.61" y2="353.33" stroke="#444" stroke-width="0.55" stroke-dasharray="3 2.2"/>
<line x1="506.23" y1="214.17" x2="506.23" y2="358.17" stroke="#444" stroke-width="0.55" stroke-dasharray="3 2.2"/>
<line x1="509.86" y1="219.00" x2="509.86" y2="363.00" stroke="#444" stroke-width="0.55" stroke-dasharray="3 2.2"/>
<line x1="513.49" y1="223.83" x2="513.49" y2="367.83" stroke="#444" stroke-width="0.55" stroke-dasharray="3 2.2"/>
<line x1="517.11" y1="228.67" x2="517.11" y2="372.67" stroke="#444" stroke-width="0.55" stroke-dasharray="3 2.2"/>
<line x1="520.74" y1="233.50" x2="520.74" y2="377.50" stroke="#444" stroke-width="0.55" stroke-dasharray="3 2.2"/>
<line x1="524.37" y1="238.33" x2="524.37" y2="382.33" stroke="#444" stroke-width="0.55" stroke-dasharray="3 2.2"/>
<line x1="527.99" y1="243.17" x2="527.99" y2="387.17" stroke="#444" stroke-width="0.55" stroke-dasharray="3 2.2"/>
<line x1="488.10" y1="202.00" x2="531.62" y2="260.00" stroke="#555" stroke-width="0.5" stroke-dasharray="2.6 2.6"/>
<line x1="488.10" y1="214.00" x2="531.62" y2="272.00" stroke="#555" stroke-width="0.5" stroke-dasharray="2.6 2.6"/>
<line x1="488.10" y1="226.00" x2="531.62" y2="284.00" stroke="#555" stroke-width="0.5" stroke-dasharray="2.6 2.6"/>
<line x1="488.10" y1="238.00" x2="531.62" y2="296.00" stroke="#555" stroke-width="0.5" stroke-dasharray="2.6 2.6"/>
<line x1="488.10" y1="250.00" x2="531.62" y2="308.00" stroke="#555" stroke-width="0.5" stroke-dasharray="2.6 2.6"/>
<line x1="488.10" y1="262.00" x2="531.62" y2="320.00" stroke="#555" stroke-width="0.5" stroke-dasharray="2.6 2.6"/>
<line x1="488.10" y1="274.00" x2="531.62" y2="332.00" stroke="#555" stroke-width="0.5" stroke-dasharray="2.6 2.6"/>
<line x1="488.10" y1="286.00" x2="531.62" y2="344.00" stroke="#555" stroke-width="0.5" stroke-dasharray="2.6 2.6"/>
<line x1="488.10" y1="298.00" x2="531.62" y2="356.00" stroke="#555" stroke-width="0.5" stroke-dasharray="2.6 2.6"/>
<line x1="488.10" y1="310.00" x2="531.62" y2="368.00" stroke="#555" stroke-width="0.5" stroke-dasharray="2.6 2.6"/>
<line x1="488.10" y1="322.00" x2="531.62" y2="380.00" stroke="#555" stroke-width="0.5" stroke-dasharray="2.6 2.6"/>
<line x1="488.10" y1="190.00" x2="488.10" y2="334.00" stroke="#222" stroke-width="1.1" />
<line x1="498.98" y1="204.50" x2="498.98" y2="348.50" stroke="#222" stroke-width="1.1" />
<line x1="509.86" y1="219.00" x2="509.86" y2="363.00" stroke="#222" stroke-width="1.1" />
<line x1="520.74" y1="233.50" x2="520.74" y2="377.50" stroke="#222" stroke-width="1.1" />
<line x1="531.62" y1="248.00" x2="531.62" y2="392.00" stroke="#222" stroke-width="1.1" />
<line x1="488.10" y1="190.00" x2="531.62" y2="248.00" stroke="#222" stroke-width="1.1" />
<line x1="488.10" y1="226.00" x2="531.62" y2="284.00" stroke="#222" stroke-width="1.1" />
<line x1="488.10" y1="262.00" x2="531.62" y2="320.00" stroke="#222" stroke-width="1.1" />
<line x1="488.10" y1="298.00" x2="531.62" y2="356.00" stroke="#222" stroke-width="1.1" />
<line x1="488.10" y1="334.00" x2="531.62" y2="392.00" stroke="#222" stroke-width="1.1" />
<circle cx="488.10" cy="190.00" r="3.4" fill="#0000f2" />
<circle cx="488.10" cy="226.00" r="3.4" fill="#000" />
<circle cx="488.10" cy="262.00" r="3.4" fill="#0000f2" />
<circle cx="488.10" cy="298.00" r="3.4" fill="#000" />
<circle cx="488.10" cy="334.00" r="3.4" fill="#0000f2" />
<circle cx="498.98" cy="204.50" r="3.4" fill="#000" />
<circle cx="498.98" cy="240.50" r="3.4" fill="#000" />
<circle cx="498.98" cy="276.50" r="3.4" fill="#000" />
<circle cx="498.98" cy="312.50" r="3.4" fill="#000" />
<circle cx="498.98" cy="348.50" r="3.4" fill="#000" />
<circle cx="509.86" cy="219.00" r="3.4" fill="#0000f2" />
<circle cx="509.86" cy="255.00" r="3.4" fill="#000" />
<circle cx="509.86" cy="291.00" r="3.4" fill="#0000f2" />
<circle cx="509.86" cy="327.00" r="3.4" fill="#000" />
<circle cx="509.86" cy="363.00" r="3.4" fill="#0000f2" />
<circle cx="520.74" cy="233.50" r="3.4" fill="#000" />
<circle cx="520.74" cy="269.50" r="3.4" fill="#000" />
<circle cx="520.74" cy="305.50" r="3.4" fill="#000" />
<circle cx="520.74" cy="341.50" r="3.4" fill="#000" />
<circle cx="520.74" cy="377.50" r="3.4" fill="#000" />
<circle cx="531.62" cy="248.00" r="3.4" fill="#0000f2" />
<circle cx="531.62" cy="284.00" r="3.4" fill="#000" />
<circle cx="531.62" cy="320.00" r="3.4" fill="#0000f2" />
<circle cx="531.62" cy="356.00" r="3.4" fill="#000" />
<circle cx="531.62" cy="392.00" r="3.4" fill="#0000f2" />
<line x1="509.80" y1="366.00" x2="509.80" y2="398.00" stroke="#4a4ad0" stroke-width="0.9" stroke-dasharray="2.6 3"/>
<line x1="546.03" y1="194.83" x2="546.03" y2="338.83" stroke="#444" stroke-width="0.55" stroke-dasharray="3 2.2"/>
<line x1="549.65" y1="199.67" x2="549.65" y2="343.67" stroke="#444" stroke-width="0.55" stroke-dasharray="3 2.2"/>
<line x1="553.28" y1="204.50" x2="553.28" y2="348.50" stroke="#444" stroke-width="0.55" stroke-dasharray="3 2.2"/>
<line x1="556.91" y1="209.33" x2="556.91" y2="353.33" stroke="#444" stroke-width="0.55" stroke-dasharray="3 2.2"/>
<line x1="560.53" y1="214.17" x2="560.53" y2="358.17" stroke="#444" stroke-width="0.55" stroke-dasharray="3 2.2"/>
<line x1="564.16" y1="219.00" x2="564.16" y2="363.00" stroke="#444" stroke-width="0.55" stroke-dasharray="3 2.2"/>
<line x1="567.79" y1="223.83" x2="567.79" y2="367.83" stroke="#444" stroke-width="0.55" stroke-dasharray="3 2.2"/>
<line x1="571.41" y1="228.67" x2="571.41" y2="372.67" stroke="#444" stroke-width="0.55" stroke-dasharray="3 2.2"/>
<line x1="575.04" y1="233.50" x2="575.04" y2="377.50" stroke="#444" stroke-width="0.55" stroke-dasharray="3 2.2"/>
<line x1="578.67" y1="238.33" x2="578.67" y2="382.33" stroke="#444" stroke-width="0.55" stroke-dasharray="3 2.2"/>
<line x1="582.29" y1="243.17" x2="582.29" y2="387.17" stroke="#444" stroke-width="0.55" stroke-dasharray="3 2.2"/>
<line x1="542.40" y1="202.00" x2="585.92" y2="260.00" stroke="#555" stroke-width="0.5" stroke-dasharray="2.6 2.6"/>
<line x1="542.40" y1="214.00" x2="585.92" y2="272.00" stroke="#555" stroke-width="0.5" stroke-dasharray="2.6 2.6"/>
<line x1="542.40" y1="226.00" x2="585.92" y2="284.00" stroke="#555" stroke-width="0.5" stroke-dasharray="2.6 2.6"/>
<line x1="542.40" y1="238.00" x2="585.92" y2="296.00" stroke="#555" stroke-width="0.5" stroke-dasharray="2.6 2.6"/>
<line x1="542.40" y1="250.00" x2="585.92" y2="308.00" stroke="#555" stroke-width="0.5" stroke-dasharray="2.6 2.6"/>
<line x1="542.40" y1="262.00" x2="585.92" y2="320.00" stroke="#555" stroke-width="0.5" stroke-dasharray="2.6 2.6"/>
<line x1="542.40" y1="274.00" x2="585.92" y2="332.00" stroke="#555" stroke-width="0.5" stroke-dasharray="2.6 2.6"/>
<line x1="542.40" y1="286.00" x2="585.92" y2="344.00" stroke="#555" stroke-width="0.5" stroke-dasharray="2.6 2.6"/>
<line x1="542.40" y1="298.00" x2="585.92" y2="356.00" stroke="#555" stroke-width="0.5" stroke-dasharray="2.6 2.6"/>
<line x1="542.40" y1="310.00" x2="585.92" y2="368.00" stroke="#555" stroke-width="0.5" stroke-dasharray="2.6 2.6"/>
<line x1="542.40" y1="322.00" x2="585.92" y2="380.00" stroke="#555" stroke-width="0.5" stroke-dasharray="2.6 2.6"/>
<line x1="542.40" y1="190.00" x2="542.40" y2="334.00" stroke="#222" stroke-width="1.1" />
<line x1="564.16" y1="219.00" x2="564.16" y2="363.00" stroke="#222" stroke-width="1.1" />
<line x1="585.92" y1="248.00" x2="585.92" y2="392.00" stroke="#222" stroke-width="1.1" />
<line x1="542.40" y1="190.00" x2="585.92" y2="248.00" stroke="#222" stroke-width="1.1" />
<line x1="542.40" y1="262.00" x2="585.92" y2="320.00" stroke="#222" stroke-width="1.1" />
<line x1="542.40" y1="334.00" x2="585.92" y2="392.00" stroke="#222" stroke-width="1.1" />
<circle cx="542.40" cy="190.00" r="3.4" fill="#0000f2" />
<circle cx="542.40" cy="262.00" r="3.4" fill="#0000f2" />
<circle cx="542.40" cy="334.00" r="3.4" fill="#0000f2" />
<circle cx="564.16" cy="219.00" r="3.4" fill="#0000f2" />
<circle cx="564.16" cy="291.00" r="3.4" fill="#0000f2" />
<circle cx="564.16" cy="363.00" r="3.4" fill="#0000f2" />
<circle cx="585.92" cy="248.00" r="3.4" fill="#0000f2" />
<circle cx="585.92" cy="320.00" r="3.4" fill="#0000f2" />
<circle cx="585.92" cy="392.00" r="3.4" fill="#0000f2" />
<line x1="564.20" y1="366.00" x2="564.20" y2="398.00" stroke="#4a4ad0" stroke-width="0.9" stroke-dasharray="2.6 3"/>
<line x1="600.43" y1="194.83" x2="600.43" y2="338.83" stroke="#444" stroke-width="0.55" stroke-dasharray="3 2.2"/>
<line x1="604.05" y1="199.67" x2="604.05" y2="343.67" stroke="#444" stroke-width="0.55" stroke-dasharray="3 2.2"/>
<line x1="607.68" y1="204.50" x2="607.68" y2="348.50" stroke="#444" stroke-width="0.55" stroke-dasharray="3 2.2"/>
<line x1="611.31" y1="209.33" x2="611.31" y2="353.33" stroke="#444" stroke-width="0.55" stroke-dasharray="3 2.2"/>
<line x1="614.93" y1="214.17" x2="614.93" y2="358.17" stroke="#444" stroke-width="0.55" stroke-dasharray="3 2.2"/>
<line x1="618.56" y1="219.00" x2="618.56" y2="363.00" stroke="#444" stroke-width="0.55" stroke-dasharray="3 2.2"/>
<line x1="622.19" y1="223.83" x2="622.19" y2="367.83" stroke="#444" stroke-width="0.55" stroke-dasharray="3 2.2"/>
<line x1="625.81" y1="228.67" x2="625.81" y2="372.67" stroke="#444" stroke-width="0.55" stroke-dasharray="3 2.2"/>
<line x1="629.44" y1="233.50" x2="629.44" y2="377.50" stroke="#444" stroke-width="0.55" stroke-dasharray="3 2.2"/>
<line x1="633.07" y1="238.33" x2="633.07" y2="382.33" stroke="#444" stroke-width="0.55" stroke-dasharray="3 2.2"/>
<line x1="636.69" y1="243.17" x2="636.69" y2="387.17" stroke="#444" stroke-width="0.55" stroke-dasharray="3 2.2"/>
<line x1="596.80" y1="202.00" x2="640.32" y2="260.00" stroke="#555" stroke-width="0.5" stroke-dasharray="2.6 2.6"/>
<line x1="596.80" y1="214.00" x2="640.32" y2="272.00" stroke="#555" stroke-width="0.5" stroke-dasharray="2.6 2.6"/>
<line x1="596.80" y1="226.00" x2="640.32" y2="284.00" stroke="#555" stroke-width="0.5" stroke-dasharray="2.6 2.6"/>
<line x1="596.80" y1="238.00" x2="640.32" y2="296.00" stroke="#555" stroke-width="0.5" stroke-dasharray="2.6 2.6"/>
<line x1="596.80" y1="250.00" x2="640.32" y2="308.00" stroke="#555" stroke-width="0.5" stroke-dasharray="2.6 2.6"/>
<line x1="596.80" y1="262.00" x2="640.32" y2="320.00" stroke="#555" stroke-width="0.5" stroke-dasharray="2.6 2.6"/>
<line x1="596.80" y1="274.00" x2="640.32" y2="332.00" stroke="#555" stroke-width="0.5" stroke-dasharray="2.6 2.6"/>
<line x1="596.80" y1="286.00" x2="640.32" y2="344.00" stroke="#555" stroke-width="0.5" stroke-dasharray="2.6 2.6"/>
<line x1="596.80" y1="298.00" x2="640.32" y2="356.00" stroke="#555" stroke-width="0.5" stroke-dasharray="2.6 2.6"/>
<line x1="596.80" y1="310.00" x2="640.32" y2="368.00" stroke="#555" stroke-width="0.5" stroke-dasharray="2.6 2.6"/>
<line x1="596.80" y1="322.00" x2="640.32" y2="380.00" stroke="#555" stroke-width="0.5" stroke-dasharray="2.6 2.6"/>
<line x1="596.80" y1="190.00" x2="596.80" y2="334.00" stroke="#444" stroke-width="0.6" />
<line x1="640.32" y1="248.00" x2="640.32" y2="392.00" stroke="#444" stroke-width="0.6" />
<line x1="596.80" y1="190.00" x2="640.32" y2="248.00" stroke="#444" stroke-width="0.6" />
<line x1="596.80" y1="334.00" x2="640.32" y2="392.00" stroke="#444" stroke-width="0.6" />
<rect x="593.80" y="189.20" width="6.00" height="6.00" fill="#000" />
<rect x="637.40" y="246.60" width="6.00" height="6.00" fill="#000" />
<rect x="593.80" y="332.40" width="6.00" height="6.00" fill="#000" />
<rect x="637.40" y="390.00" width="6.00" height="6.00" fill="#000" />
<path d="M595.8,200 C595.8,234.5 616,236 617.2,205 L617.2,201.5 A11.25,20 0 0 1 639.7,201.5 L639.7,387 C639.7,355 618.8,355 618.3,384 L618.3,388 A11.25,20 0 0 1 595.8,388 Z" fill="#ffc000" stroke="none" stroke-width="1" fill-opacity="0.5"/>
<path d="M595.8,200 C595.8,234.5 616,236 617.2,205 L617.2,201.5 A11.25,20 0 0 1 639.7,201.5 L639.7,387 C639.7,355 618.8,355 618.3,384 L618.3,388 A11.25,20 0 0 1 595.8,388 Z" fill="none" stroke="#ff0000" stroke-width="1.1" />
<line x1="618.40" y1="376.00" x2="618.40" y2="418.00" stroke="#4a4ad0" stroke-width="0.9" stroke-dasharray="2.6 3"/>
<path d="M447.00,187.80 L471.00,187.80" fill="none" stroke="#5b9bd5" stroke-width="0.9" stroke-linejoin="miter"/>
<path d="M477.00,187.80 L470.50,190.10 L470.50,185.50 Z" fill="#5b9bd5"/>
<path d="M500.50,187.80 L523.80,187.80" fill="none" stroke="#5b9bd5" stroke-width="0.9" stroke-linejoin="miter"/>
<path d="M529.80,187.80 L523.30,190.10 L523.30,185.50 Z" fill="#5b9bd5"/>
<path d="M560.00,187.80 L583.80,187.80" fill="none" stroke="#5b9bd5" stroke-width="0.9" stroke-linejoin="miter"/>
<path d="M589.80,187.80 L583.30,190.10 L583.30,185.50 Z" fill="#5b9bd5"/>
<text transform="translate(399.27,435.10) scale(0.9353,1)" font-size="16" font-family='"Liberation Sans", "DejaVu Sans", sans-serif' fill="#000" >Local-scale</text>
<text transform="translate(500.87,421.80) scale(1.0269,1)" font-size="17" font-family='"Liberation Sans", "DejaVu Sans", sans-serif' fill="#000" >upscaling</text>
<text transform="translate(583.31,435.10) scale(0.9815,1)" font-size="16" font-family='"Liberation Sans", "DejaVu Sans", sans-serif' fill="#000" >Meso-scale grid</text>
<text transform="translate(401.12,575.00) scale(0.9447,1)" font-size="25.4" font-family='"Liberation Sans", "DejaVu Sans", sans-serif' fill="#000" >vSPH</text>
<text transform="translate(603.82,574.00) scale(1.0500,1)" font-size="25.4" font-family='"Liberation Sans", "DejaVu Sans", sans-serif' fill="#000" >iAMAS</text>
<rect x="694.20" y="13.50" width="383.60" height="567.80" fill="#fff" stroke="#d92b2b" stroke-width="1.2" />
<text transform="translate(701.90,35.40) scale(0.9583,1)" font-size="17.8" font-family='"Liberation Sans", "DejaVu Sans", sans-serif' fill="#000" font-weight="bold" >Global transport</text>
<g clip-path="url(#clipAtm)">
<rect x="745.80" y="43.00" width="257.00" height="251.40" fill="#f2f2f2" />
<circle cx="874.50" cy="171.00" r="128.5" fill="url(#globeGrad)" />
<circle cx="874.50" cy="171.00" r="128.5" fill="url(#hex)" opacity="0.55"/>
<g filter="url(#blur3)" opacity="0.3">
<path d="M820,150 Q850,140 870,160 Q880,190 850,200 Q820,190 820,150 Z" fill="#d9d2c0" />
<path d="M900,120 Q930,110 940,135 Q925,150 905,140 Z" fill="#f4f4f0" />
<path d="M870,215 Q900,205 915,225 Q900,245 875,238 Z" fill="#f3f3ee" />
</g>
</g>
<line x1="745.80" y1="295.60" x2="1003.00" y2="295.60" stroke="#b9a0dc" stroke-width="1.6" />
<rect x="794.40" y="69.60" width="158.40" height="40.80" fill="none" stroke="#777" stroke-width="0.8" rx="5" ry="5" stroke-dasharray="1.2 1.2"/>
<rect x="744.60" y="128.40" width="124.20" height="60.60" fill="none" stroke="#777" stroke-width="0.8" rx="7" ry="7" stroke-dasharray="1.2 1.2"/>
<rect x="887.40" y="127.40" width="114.80" height="61.60" fill="none" stroke="#777" stroke-width="0.8" rx="7" ry="7" stroke-dasharray="1.2 1.2"/>
<rect x="810.50" y="238.60" width="128.00" height="21.00" fill="none" stroke="#777" stroke-width="0.8" rx="3" ry="3" stroke-dasharray="1.2 1.2"/>
<rect x="763.20" y="206.20" width="72.90" height="19.00" fill="none" stroke="#6a6a6a" stroke-width="1.2" rx="0" ry="0" stroke-dasharray="6.2 3.3"/>
<rect x="904.30" y="206.50" width="74.30" height="18.90" fill="none" stroke="#6a6a6a" stroke-width="1.2" rx="0" ry="0" stroke-dasharray="6.2 3.3"/>
<text transform="translate(806.85,56.00) scale(1.0199,1)" font-size="15.2" font-family='"Liberation Serif", "DejaVu Serif", serif' fill="#000" font-weight="bold" >Atmospheric Model</text>
<text transform="translate(812.17,82.80) scale(1.0207,1)" font-size="12.6" font-family='"Liberation Serif", "DejaVu Serif", serif' fill="#000" >Atmospheric Dynamics</text>
<text transform="translate(798.50,101.20) scale(0.9730,1)" font-size="10.6" font-family='"Liberation Serif", "DejaVu Serif", serif' fill="#7030a0" >Equations of Motion and Continuity</text>
<text transform="translate(759.49,140.70) scale(0.9222,1)" font-size="12.6" font-family='"Liberation Serif", "DejaVu Serif", serif' fill="#000" >Atmospheric Physics</text>
<text transform="translate(890.79,140.70) scale(0.9165,1)" font-size="12.6" font-family='"Liberation Serif", "DejaVu Serif", serif' fill="#000" >Atmospheric Chemistry</text>
<text transform="translate(762.31,161.20) scale(0.9734,1)" font-size="12.2" font-family='"Liberation Serif", "DejaVu Serif", serif' fill="#e2761b" >Cloud</text>
<text transform="translate(809.59,160.20) scale(0.9489,1)" font-size="12.2" font-family='"Liberation Serif", "DejaVu Serif", serif' fill="#e2761b" >Turbulence</text>
<text transform="translate(752.12,179.00) scale(0.9575,1)" font-size="12.2" font-family='"Liberation Serif", "DejaVu Serif", serif' fill="#e2761b" >Convection</text>
<text transform="translate(812.87,179.00) scale(0.9531,1)" font-size="12.2" font-family='"Liberation Serif", "DejaVu Serif", serif' fill="#e2761b" >Radiation</text>
<text transform="translate(899.72,156.50) scale(0.9381,1)" font-size="12.4" font-family='"Liberation Serif", "DejaVu Serif", serif' fill="#1a3cff" >Gas Photochemistry</text>
<text transform="translate(902.69,170.70) scale(0.9343,1)" font-size="12.4" font-family='"Liberation Serif", "DejaVu Serif", serif' fill="#1a3cff" >Aerosol chemistry</text>
<text transform="translate(908.29,184.70) scale(0.9394,1)" font-size="12.4" font-family='"Liberation Serif", "DejaVu Serif", serif' fill="#1a3cff" >Aerosol physics</text>
<text transform="translate(767.90,219.30) scale(0.9528,1)" font-size="12.2" font-family='"Liberation Serif", "DejaVu Serif", serif' fill="#333" font-weight="bold" >Meteorology</text>
<text transform="translate(909.23,219.60) scale(0.9489,1)" font-size="12.2" font-family='"Liberation Serif", "DejaVu Serif", serif' fill="#333" font-weight="bold" >Composition</text>
<text transform="translate(823.83,252.30) scale(1.0085,1)" font-size="12.8" font-family='"Liberation Serif", "DejaVu Serif", serif' fill="#2f6475" >Land and Emission</text>
<text transform="translate(790.83,280.70) scale(1.0200,1)" font-size="12.6" font-family='"Liberation Serif", "DejaVu Serif", serif' fill="#ff0000" >Meteorology-Chemistry</text>
<text transform="translate(921.57,280.70) scale(1.0351,1)" font-size="12.6" font-family='"Liberation Serif", "DejaVu Serif", serif' fill="#ff0000" >Coupled</text>
<line x1="815.10" y1="125.80" x2="815.10" y2="113.90" stroke="#6c6c6c" stroke-width="1.1" />
<path d="M812.50,117.30 L815.10,113.90 L817.70,117.30" fill="none" stroke="#6c6c6c" stroke-width="1.1" />
<line x1="826.30" y1="113.90" x2="826.30" y2="125.80" stroke="#6c6c6c" stroke-width="1.1" />
<path d="M823.70,122.40 L826.30,125.80 L828.90,122.40" fill="none" stroke="#6c6c6c" stroke-width="1.1" />
<line x1="926.80" y1="113.50" x2="926.80" y2="125.40" stroke="#6c6c6c" stroke-width="1.1" />
<path d="M924.20,122.00 L926.80,125.40 L929.40,122.00" fill="none" stroke="#6c6c6c" stroke-width="1.1" />
<line x1="804.00" y1="191.80" x2="804.00" y2="203.50" stroke="#6c6c6c" stroke-width="1.1" />
<path d="M801.40,200.10 L804.00,203.50 L806.60,200.10" fill="none" stroke="#6c6c6c" stroke-width="1.1" />
<line x1="941.00" y1="192.00" x2="941.00" y2="203.50" stroke="#6c6c6c" stroke-width="1.1" />
<path d="M938.40,200.10 L941.00,203.50 L943.60,200.10" fill="none" stroke="#6c6c6c" stroke-width="1.1" />
<path d="M768,225.8 L768,231.5 Q768.3,238.6 778,240.2 Q790,242.2 807,242.5" fill="none" stroke="#6c6c6c" stroke-width="1.25" />
<path d="M803.8,239.6 L808.4,242.5 L803.6,245.2" fill="none" stroke="#6c6c6c" stroke-width="1.25" />
<path d="M806.7,246.8 L787,246.7 C767,245.4 753.4,226 751.2,194" fill="none" stroke="#6c6c6c" stroke-width="1.25" />
<path d="M748.4,197.8 L751,192.2 L754.2,197.4" fill="none" stroke="#6c6c6c" stroke-width="1.25" />
<path d="M843.9,215.3 C868,214 862,188 885,186.6" fill="none" stroke="#e2761b" stroke-width="1.2" />
<path d="M883,183.6 L888,186.5 L883,189.4 Z" fill="#e2761b" />
<path d="M900,212.3 C872,208 878,190 869,186.6" fill="none" stroke="#1a3cff" stroke-width="1.3" />
<path d="M866.6,185 L872.6,185.6 L869.6,190.6 Z" fill="#1a3cff" />
<path d="M900,216.7 C884,218 876,226 873.2,233.6" fill="none" stroke="#1a3cff" stroke-width="1.3" />
<path d="M870.4,231.6 L872.4,237 L876.4,232.8 Z" fill="#1a3cff" />
<path d="M940.5,246.1 C975,246 990,240 995.2,193.6" fill="none" stroke="#157a3c" stroke-width="1.2" />
<path d="M992.4,195.4 L995.5,189.8 L998.2,195.8 Z" fill="#157a3c" />
<text transform="translate(797.31,313.00) scale(0.9787,1)" font-size="17.2" font-family='"Liberation Sans", "DejaVu Sans", sans-serif' fill="#000" font-weight="bold" >Governing equations</text>
<text x="715.80" y="346.90" font-size="15.4" font-family='"Liberation Serif", "DejaVu Serif", serif' fill="#2e2e2e" font-style="italic" >∂</text>
<text transform="translate(724.02,346.90) scale(1.0394,1)" font-size="15.4" font-family='"Liberation Serif", "DejaVu Serif", serif' fill="#2e2e2e" font-weight="bold" >V</text>
<text transform="translate(735.71,349.60) scale(0.9582,1)" font-size="10.6" font-family='"Liberation Serif", "DejaVu Serif", serif' fill="#2e2e2e" font-style="italic" >H</text>
<line x1="715.80" y1="353.00" x2="744.70" y2="353.00" stroke="#2e2e2e" stroke-width="0.8" />
<text x="723.20" y="367.90" font-size="15.4" font-family='"Liberation Serif", "DejaVu Serif", serif' fill="#2e2e2e" font-style="italic" >∂</text>
<text x="731.80" y="367.90" font-size="15.4" font-family='"Liberation Serif", "DejaVu Serif", serif' fill="#2e2e2e" font-style="italic" >t</text>
<text transform="translate(750.73,357.60) scale(1.3955,1)" font-size="15.4" font-family='"Liberation Serif", "DejaVu Serif", serif' fill="#2e2e2e" >=</text>
<text transform="translate(766.50,357.60) scale(1.2978,1)" font-size="15.4" font-family='"Liberation Serif", "DejaVu Serif", serif' fill="#2e2e2e" >−</text>
<text x="787.20" y="347.80" font-size="15.4" font-family='"Liberation Serif", "DejaVu Serif", serif' fill="#2e2e2e" font-style="italic" >ρ</text>
<text x="795.00" y="350.40" font-size="10.6" font-family='"Liberation Serif", "DejaVu Serif", serif' fill="#2e2e2e" font-style="italic" >d</text>
<line x1="784.20" y1="353.00" x2="803.50" y2="353.00" stroke="#2e2e2e" stroke-width="0.8" />
<text x="784.70" y="367.00" font-size="15.4" font-family='"Liberation Serif", "DejaVu Serif", serif' fill="#2e2e2e" font-style="italic" >ρ</text>
<text transform="translate(792.04,369.60) scale(1.4648,1)" font-size="10.6" font-family='"Liberation Serif", "DejaVu Serif", serif' fill="#2e2e2e" font-style="italic" >m</text>
<text transform="translate(807.07,365.60) scale(0.861,1.807)" font-size="24.00" font-family='"Liberation Serif", "DejaVu Serif", serif' fill="#2e2e2e">[</text>
<text transform="translate(820.35,353.35) rotate(180) scale(1.279,1.007) translate(-5.28,5.41)" font-size="16.40" font-family='"Liberation Serif", "DejaVu Serif", serif' fill="#2e2e2e">Δ</text>
<text x="826.00" y="362.20" font-size="10.6" font-family='"Liberation Serif", "DejaVu Serif", serif' fill="#2e2e2e" font-style="italic" >ζ</text>
<text transform="translate(833.56,361.59) scale(0.867,1.539)" font-size="22.00" font-family='"Liberation Serif", "DejaVu Serif", serif' fill="#2e2e2e">(</text>
<text x="845.60" y="346.90" font-size="15.4" font-family='"Liberation Serif", "DejaVu Serif", serif' fill="#2e2e2e" font-style="italic" >p</text>
<line x1="842.10" y1="353.00" x2="856.10" y2="353.00" stroke="#2e2e2e" stroke-width="0.8" />
<text x="843.00" y="367.00" font-size="15.4" font-family='"Liberation Serif", "DejaVu Serif", serif' fill="#2e2e2e" font-style="italic" >ζ</text>
<text x="850.20" y="369.60" font-size="10.6" font-family='"Liberation Serif", "DejaVu Serif", serif' fill="#2e2e2e" font-style="italic" >z</text>
<text transform="translate(858.79,361.59) scale(0.867,1.539)" font-size="22.00" font-family='"Liberation Serif", "DejaVu Serif", serif' fill="#2e2e2e">)</text>
<text transform="translate(871.86,357.60) scale(1.2280,1)" font-size="15.4" font-family='"Liberation Serif", "DejaVu Serif", serif' fill="#2e2e2e" >−</text>
<text x="888.80" y="346.70" font-size="15.4" font-family='"Liberation Serif", "DejaVu Serif", serif' fill="#2e2e2e" font-style="italic" >∂</text>
<text x="897.20" y="346.70" font-size="15.4" font-family='"Liberation Serif", "DejaVu Serif", serif' fill="#2e2e2e" font-weight="bold" >z</text>
<text transform="translate(904.51,349.40) scale(0.9703,1)" font-size="10.6" font-family='"Liberation Serif", "DejaVu Serif", serif' fill="#2e2e2e" font-style="italic" >H</text>
<text x="915.20" y="346.70" font-size="15.4" font-family='"Liberation Serif", "DejaVu Serif", serif' fill="#2e2e2e" font-style="italic" >p</text>
<line x1="888.80" y1="352.80" x2="924.70" y2="352.80" stroke="#2e2e2e" stroke-width="0.8" />
<text x="898.40" y="367.80" font-size="15.4" font-family='"Liberation Serif", "DejaVu Serif", serif' fill="#2e2e2e" font-style="italic" >∂</text>
<text x="906.60" y="367.80" font-size="15.4" font-family='"Liberation Serif", "DejaVu Serif", serif' fill="#2e2e2e" font-style="italic" >ζ</text>
<text transform="translate(925.75,365.37) scale(0.861,1.848)" font-size="24.00" font-family='"Liberation Serif", "DejaVu Serif", serif' fill="#2e2e2e">]</text>
<text transform="translate(938.33,357.60) scale(1.2699,1)" font-size="15.4" font-family='"Liberation Serif", "DejaVu Serif", serif' fill="#2e2e2e" >−</text>
<text x="953.70" y="357.20" font-size="15.4" font-family='"Liberation Serif", "DejaVu Serif", serif' fill="#2e2e2e" font-style="italic" >η</text>
<text x="964.20" y="357.20" font-size="15.4" font-family='"Liberation Serif", "DejaVu Serif", serif' fill="#2e2e2e" font-weight="bold" >k</text>
<text transform="translate(977.56,357.40) scale(1.2612,1)" font-size="15.4" font-family='"Liberation Serif", "DejaVu Serif", serif' fill="#2e2e2e" >×</text>
<text transform="translate(993.02,357.20) scale(1.0580,1)" font-size="15.4" font-family='"Liberation Serif", "DejaVu Serif", serif' fill="#2e2e2e" font-weight="bold" >V</text>
<text transform="translate(1004.69,359.60) scale(0.8247,1)" font-size="10.6" font-family='"Liberation Serif", "DejaVu Serif", serif' fill="#2e2e2e" font-style="italic" >H</text>
<text transform="translate(767.17,399.60) scale(1.2140,1)" font-size="15.4" font-family='"Liberation Serif", "DejaVu Serif", serif' fill="#2e2e2e" >−</text>
<text transform="translate(782.50,397.80) scale(1.2468,1)" font-size="15.4" font-family='"Liberation Serif", "DejaVu Serif", serif' fill="#2e2e2e" font-weight="bold" >v</text>
<text transform="translate(793.12,400.90) scale(1.0188,1)" font-size="10.6" font-family='"Liberation Serif", "DejaVu Serif", serif' fill="#2e2e2e" font-style="italic" >H</text>
<text transform="translate(810.35,392.35) rotate(180) scale(1.279,1.007) translate(-5.28,5.41)" font-size="16.40" font-family='"Liberation Serif", "DejaVu Serif", serif' fill="#2e2e2e">Δ</text>
<text x="816.40" y="401.40" font-size="10.6" font-family='"Liberation Serif", "DejaVu Serif", serif' fill="#2e2e2e" font-style="italic" >ζ</text>
<text x="827.60" y="398.40" font-size="15.4" font-family='"Liberation Serif", "DejaVu Serif", serif' fill="#2e2e2e" >·</text>
<text transform="translate(834.01,397.80) scale(1.0951,1)" font-size="15.4" font-family='"Liberation Serif", "DejaVu Serif", serif' fill="#2e2e2e" font-weight="bold" >V</text>
<text transform="translate(852.23,399.60) scale(1.2699,1)" font-size="15.4" font-family='"Liberation Serif", "DejaVu Serif", serif' fill="#2e2e2e" >−</text>
<text x="868.80" y="388.10" font-size="15.4" font-family='"Liberation Serif", "DejaVu Serif", serif' fill="#2e2e2e" font-style="italic" >∂</text>
<text transform="translate(876.31,388.10) scale(1.1167,1)" font-size="15.4" font-family='"Liberation Serif", "DejaVu Serif", serif' fill="#2e2e2e" >Ω</text>
<text transform="translate(888.60,388.10) scale(1.2208,1)" font-size="15.4" font-family='"Liberation Serif", "DejaVu Serif", serif' fill="#2e2e2e" font-weight="bold" >v</text>
<text transform="translate(899.52,390.80) scale(1.0188,1)" font-size="10.6" font-family='"Liberation Serif", "DejaVu Serif", serif' fill="#2e2e2e" font-style="italic" >H</text>
<line x1="868.80" y1="395.00" x2="909.80" y2="395.00" stroke="#2e2e2e" stroke-width="0.8" />
<text x="880.70" y="408.30" font-size="15.4" font-family='"Liberation Serif", "DejaVu Serif", serif' fill="#2e2e2e" font-style="italic" >∂</text>
<text x="889.00" y="408.30" font-size="15.4" font-family='"Liberation Serif", "DejaVu Serif", serif' fill="#2e2e2e" font-style="italic" >ζ</text>
<text transform="translate(915.53,399.60) scale(1.2699,1)" font-size="15.4" font-family='"Liberation Serif", "DejaVu Serif", serif' fill="#2e2e2e" >−</text>
<text x="930.90" y="398.10" font-size="15.4" font-family='"Liberation Serif", "DejaVu Serif", serif' fill="#2e2e2e" font-style="italic" >ρ</text>
<text x="938.60" y="400.80" font-size="10.6" font-family='"Liberation Serif", "DejaVu Serif", serif' fill="#2e2e2e" font-style="italic" >d</text>
<text transform="translate(952.65,392.65) rotate(180) scale(1.279,1.007) translate(-5.28,5.41)" font-size="16.40" font-family='"Liberation Serif", "DejaVu Serif", serif' fill="#2e2e2e">Δ</text>
<text x="958.80" y="401.60" font-size="10.6" font-family='"Liberation Serif", "DejaVu Serif", serif' fill="#2e2e2e" font-style="italic" >ζ</text>
<text transform="translate(967.37,398.10) scale(0.9358,1)" font-size="15.4" font-family='"Liberation Serif", "DejaVu Serif", serif' fill="#2e2e2e" font-style="italic" >K</text>
<text transform="translate(982.90,399.60) scale(1.2978,1)" font-size="15.4" font-family='"Liberation Serif", "DejaVu Serif", serif' fill="#2e2e2e" >+</text>
<text transform="translate(999.00,398.10) scale(1.1419,1)" font-size="15.4" font-family='"Liberation Serif", "DejaVu Serif", serif' fill="#2e2e2e" font-weight="bold" >F</text>
<text transform="translate(1009.18,401.40) scale(1.1238,1)" font-size="10.6" font-family='"Liberation Serif", "DejaVu Serif", serif' fill="#2e2e2e" font-style="italic" >V</text>
<text transform="translate(1017.71,403.40) scale(1.2856,1)" font-size="8" font-family='"Liberation Serif", "DejaVu Serif", serif' fill="#2e2e2e" font-style="italic" >H</text>
<text x="720.20" y="430.20" font-size="15.4" font-family='"Liberation Serif", "DejaVu Serif", serif' fill="#2e2e2e" font-style="italic" >∂</text>
<text transform="translate(727.44,430.20) scale(1.1403,1)" font-size="15.4" font-family='"Liberation Serif", "DejaVu Serif", serif' fill="#2e2e2e" font-style="italic" >W</text>
<line x1="718.90" y1="436.90" x2="744.70" y2="436.90" stroke="#2e2e2e" stroke-width="0.8" />
<text x="725.40" y="451.80" font-size="15.4" font-family='"Liberation Serif", "DejaVu Serif", serif' fill="#2e2e2e" font-style="italic" >∂</text>
<text x="734.00" y="451.80" font-size="15.4" font-family='"Liberation Serif", "DejaVu Serif", serif' fill="#2e2e2e" font-style="italic" >t</text>
<text transform="translate(750.73,441.50) scale(1.3955,1)" font-size="15.4" font-family='"Liberation Serif", "DejaVu Serif", serif' fill="#2e2e2e" >=</text>
<text transform="translate(766.50,441.50) scale(1.2978,1)" font-size="15.4" font-family='"Liberation Serif", "DejaVu Serif", serif' fill="#2e2e2e" >−</text>
<text x="787.20" y="431.10" font-size="15.4" font-family='"Liberation Serif", "DejaVu Serif", serif' fill="#2e2e2e" font-style="italic" >ρ</text>
<text x="795.00" y="433.70" font-size="10.6" font-family='"Liberation Serif", "DejaVu Serif", serif' fill="#2e2e2e" font-style="italic" >d</text>
<line x1="784.20" y1="436.90" x2="803.50" y2="436.90" stroke="#2e2e2e" stroke-width="0.8" />
<text x="784.70" y="451.30" font-size="15.4" font-family='"Liberation Serif", "DejaVu Serif", serif' fill="#2e2e2e" font-style="italic" >ρ</text>
<text transform="translate(792.04,453.90) scale(1.4648,1)" font-size="10.6" font-family='"Liberation Serif", "DejaVu Serif", serif' fill="#2e2e2e" font-style="italic" >m</text>
<text transform="translate(807.07,449.65) scale(0.861,1.853)" font-size="24.00" font-family='"Liberation Serif", "DejaVu Serif", serif' fill="#2e2e2e">[</text>
<text x="815.80" y="430.70" font-size="15.4" font-family='"Liberation Serif", "DejaVu Serif", serif' fill="#2e2e2e" font-style="italic" >∂</text>
<text x="824.20" y="430.70" font-size="15.4" font-family='"Liberation Serif", "DejaVu Serif", serif' fill="#2e2e2e" font-style="italic" >p</text>
<line x1="814.90" y1="436.90" x2="833.00" y2="436.90" stroke="#2e2e2e" stroke-width="0.8" />
<text x="816.10" y="451.80" font-size="15.4" font-family='"Liberation Serif", "DejaVu Serif", serif' fill="#2e2e2e" font-style="italic" >∂</text>
<text x="824.30" y="451.80" font-size="15.4" font-family='"Liberation Serif", "DejaVu Serif", serif' fill="#2e2e2e" font-style="italic" >ζ</text>
<text transform="translate(837.57,441.50) scale(1.3396,1)" font-size="15.4" font-family='"Liberation Serif", "DejaVu Serif", serif' fill="#2e2e2e" >+</text>
<text x="853.50" y="441.60" font-size="15.4" font-family='"Liberation Serif", "DejaVu Serif", serif' fill="#2e2e2e" font-style="italic" >g</text>
<text x="861.40" y="441.60" font-size="15.4" font-family='"Liberation Serif", "DejaVu Serif", serif' fill="#2e2e2e" font-style="italic" >ρ</text>
<text transform="translate(862.43,443.59) scale(1.115,1.012)" font-size="17.00" font-family='"Liberation Serif", "DejaVu Serif", serif' fill="#2e2e2e">˜</text>
<text transform="translate(868.76,444.20) scale(1.4062,1)" font-size="10.6" font-family='"Liberation Serif", "DejaVu Serif", serif' fill="#2e2e2e" font-style="italic" >m</text>
<text transform="translate(879.85,449.65) scale(0.861,1.853)" font-size="24.00" font-family='"Liberation Serif", "DejaVu Serif", serif' fill="#2e2e2e">]</text>
<text transform="translate(892.73,441.50) scale(1.2699,1)" font-size="15.4" font-family='"Liberation Serif", "DejaVu Serif", serif' fill="#2e2e2e" >−</text>
<text transform="translate(908.90,442.65) scale(0.887,1.293)" font-size="18.00" font-family='"Liberation Serif", "DejaVu Serif", serif' fill="#2e2e2e">(</text>
<text transform="translate(921.95,435.95) rotate(180) scale(1.279,1.007) translate(-5.28,5.41)" font-size="16.40" font-family='"Liberation Serif", "DejaVu Serif", serif' fill="#2e2e2e">Δ</text>
<text x="931.80" y="442.00" font-size="15.4" font-family='"Liberation Serif", "DejaVu Serif", serif' fill="#2e2e2e" >·</text>
<text transform="translate(938.80,441.40) scale(1.1299,1)" font-size="15.4" font-family='"Liberation Serif", "DejaVu Serif", serif' fill="#2e2e2e" font-weight="bold" >v</text>
<text transform="translate(951.18,441.40) scale(1.1018,1)" font-size="15.4" font-family='"Liberation Serif", "DejaVu Serif", serif' fill="#2e2e2e" font-style="italic" >W</text>
<text transform="translate(968.09,442.65) scale(0.887,1.293)" font-size="18.00" font-family='"Liberation Serif", "DejaVu Serif", serif' fill="#2e2e2e">)</text>
<text x="975.30" y="447.60" font-size="10.6" font-family='"Liberation Serif", "DejaVu Serif", serif' fill="#2e2e2e" font-style="italic" >ζ</text>
<text transform="translate(985.06,441.50) scale(1.3536,1)" font-size="15.4" font-family='"Liberation Serif", "DejaVu Serif", serif' fill="#2e2e2e" >+</text>
<text transform="translate(1002.38,441.40) scale(1.0086,1)" font-size="15.4" font-family='"Liberation Serif", "DejaVu Serif", serif' fill="#2e2e2e" font-style="italic" >F</text>
<text transform="translate(1010.64,443.80) scale(1.3769,1)" font-size="10.6" font-family='"Liberation Serif", "DejaVu Serif", serif' fill="#2e2e2e" font-style="italic" >W</text>
<text x="712.60" y="473.20" font-size="15.4" font-family='"Liberation Serif", "DejaVu Serif", serif' fill="#2e2e2e" font-style="italic" >∂</text>
<text transform="translate(720.23,473.20) scale(1.2173,1)" font-size="15.4" font-family='"Liberation Serif", "DejaVu Serif", serif' fill="#2e2e2e" >Θ</text>
<text transform="translate(732.65,475.80) scale(1.4355,1)" font-size="10.6" font-family='"Liberation Serif", "DejaVu Serif", serif' fill="#2e2e2e" font-style="italic" >m</text>
<line x1="712.30" y1="478.80" x2="744.70" y2="478.80" stroke="#2e2e2e" stroke-width="0.8" />
<text x="721.40" y="493.40" font-size="15.4" font-family='"Liberation Serif", "DejaVu Serif", serif' fill="#2e2e2e" font-style="italic" >∂</text>
<text x="730.00" y="493.40" font-size="15.4" font-family='"Liberation Serif", "DejaVu Serif", serif' fill="#2e2e2e" font-style="italic" >t</text>
<text transform="translate(750.73,483.40) scale(1.3955,1)" font-size="15.4" font-family='"Liberation Serif", "DejaVu Serif", serif' fill="#2e2e2e" >=</text>
<text transform="translate(766.50,483.40) scale(1.2978,1)" font-size="15.4" font-family='"Liberation Serif", "DejaVu Serif", serif' fill="#2e2e2e" >−</text>
<text transform="translate(783.50,484.26) scale(0.887,1.238)" font-size="18.00" font-family='"Liberation Serif", "DejaVu Serif", serif' fill="#2e2e2e">(</text>
<text transform="translate(795.95,478.25) rotate(180) scale(1.279,1.007) translate(-5.28,5.41)" font-size="16.40" font-family='"Liberation Serif", "DejaVu Serif", serif' fill="#2e2e2e">Δ</text>
<text x="806.00" y="484.30" font-size="15.4" font-family='"Liberation Serif", "DejaVu Serif", serif' fill="#2e2e2e" >·</text>
<text transform="translate(813.01,483.70) scale(1.0858,1)" font-size="15.4" font-family='"Liberation Serif", "DejaVu Serif", serif' fill="#2e2e2e" font-weight="bold" >V</text>
<text x="829.80" y="483.70" font-size="15.4" font-family='"Liberation Serif", "DejaVu Serif", serif' fill="#2e2e2e" font-style="italic" >θ</text>
<text transform="translate(836.65,486.20) scale(1.4355,1)" font-size="10.6" font-family='"Liberation Serif", "DejaVu Serif", serif' fill="#2e2e2e" font-style="italic" >m</text>
<text transform="translate(848.69,484.26) scale(0.887,1.238)" font-size="18.00" font-family='"Liberation Serif", "DejaVu Serif", serif' fill="#2e2e2e">)</text>
<text x="855.80" y="490.00" font-size="10.6" font-family='"Liberation Serif", "DejaVu Serif", serif' fill="#2e2e2e" font-style="italic" >ζ</text>
<text transform="translate(865.67,483.40) scale(1.3396,1)" font-size="15.4" font-family='"Liberation Serif", "DejaVu Serif", serif' fill="#2e2e2e" >+</text>
<text transform="translate(882.59,483.70) scale(1.0294,1)" font-size="15.4" font-family='"Liberation Serif", "DejaVu Serif", serif' fill="#2e2e2e" font-style="italic" >F</text>
<text transform="translate(891.57,486.40) scale(1.4443,1)" font-size="10.6" font-family='"Liberation Serif", "DejaVu Serif", serif' fill="#2e2e2e" >Θ</text>
<text transform="translate(901.76,488.40) scale(1.5139,1)" font-size="8" font-family='"Liberation Serif", "DejaVu Serif", serif' fill="#2e2e2e" font-style="italic" >m</text>
<text x="721.10" y="511.40" font-size="15.4" font-family='"Liberation Serif", "DejaVu Serif", serif' fill="#2e2e2e" font-style="italic" >∂</text>
<text x="729.60" y="511.40" font-size="15.4" font-family='"Liberation Serif", "DejaVu Serif", serif' fill="#2e2e2e" font-style="italic" >ρ</text>
<text x="737.40" y="514.00" font-size="10.6" font-family='"Liberation Serif", "DejaVu Serif", serif' fill="#2e2e2e" font-style="italic" >d</text>
<line x1="720.70" y1="517.10" x2="744.70" y2="517.10" stroke="#2e2e2e" stroke-width="0.8" />
<text x="726.00" y="531.40" font-size="15.4" font-family='"Liberation Serif", "DejaVu Serif", serif' fill="#2e2e2e" font-style="italic" >∂</text>
<text x="734.60" y="531.40" font-size="15.4" font-family='"Liberation Serif", "DejaVu Serif", serif' fill="#2e2e2e" font-style="italic" >t</text>
<text transform="translate(750.73,521.70) scale(1.3955,1)" font-size="15.4" font-family='"Liberation Serif", "DejaVu Serif", serif' fill="#2e2e2e" >=</text>
<text transform="translate(766.50,521.70) scale(1.2978,1)" font-size="15.4" font-family='"Liberation Serif", "DejaVu Serif", serif' fill="#2e2e2e" >−</text>
<text transform="translate(783.50,522.36) scale(0.887,1.238)" font-size="18.00" font-family='"Liberation Serif", "DejaVu Serif", serif' fill="#2e2e2e">(</text>
<text transform="translate(795.95,516.35) rotate(180) scale(1.279,1.007) translate(-5.28,5.41)" font-size="16.40" font-family='"Liberation Serif", "DejaVu Serif", serif' fill="#2e2e2e">Δ</text>
<text x="806.00" y="522.40" font-size="15.4" font-family='"Liberation Serif", "DejaVu Serif", serif' fill="#2e2e2e" >·</text>
<text transform="translate(813.01,521.80) scale(1.0858,1)" font-size="15.4" font-family='"Liberation Serif", "DejaVu Serif", serif' fill="#2e2e2e" font-weight="bold" >V</text>
<text transform="translate(827.09,522.36) scale(0.887,1.238)" font-size="18.00" font-family='"Liberation Serif", "DejaVu Serif", serif' fill="#2e2e2e">)</text>
<text x="834.20" y="528.00" font-size="10.6" font-family='"Liberation Serif", "DejaVu Serif", serif' fill="#2e2e2e" font-style="italic" >ζ</text>
<text x="717.50" y="549.50" font-size="15.4" font-family='"Liberation Serif", "DejaVu Serif", serif' fill="#2e2e2e" font-style="italic" >∂</text>
<text transform="translate(725.05,549.50) scale(1.1216,1)" font-size="15.4" font-family='"Liberation Serif", "DejaVu Serif", serif' fill="#2e2e2e" font-style="italic" >Q</text>
<text x="738.20" y="552.40" font-size="10.6" font-family='"Liberation Serif", "DejaVu Serif", serif' fill="#2e2e2e" font-style="italic" >j</text>
<line x1="717.20" y1="555.10" x2="744.70" y2="555.10" stroke="#2e2e2e" stroke-width="0.8" />
<text x="723.70" y="569.70" font-size="15.4" font-family='"Liberation Serif", "DejaVu Serif", serif' fill="#2e2e2e" font-style="italic" >∂</text>
<text x="732.40" y="569.70" font-size="15.4" font-family='"Liberation Serif", "DejaVu Serif", serif' fill="#2e2e2e" font-style="italic" >t</text>
<text transform="translate(750.73,559.70) scale(1.3955,1)" font-size="15.4" font-family='"Liberation Serif", "DejaVu Serif", serif' fill="#2e2e2e" >=</text>
<text transform="translate(766.50,559.70) scale(1.2978,1)" font-size="15.4" font-family='"Liberation Serif", "DejaVu Serif", serif' fill="#2e2e2e" >−</text>
<text transform="translate(783.50,560.56) scale(0.887,1.238)" font-size="18.00" font-family='"Liberation Serif", "DejaVu Serif", serif' fill="#2e2e2e">(</text>
<text transform="translate(795.95,554.55) rotate(180) scale(1.279,1.007) translate(-5.28,5.41)" font-size="16.40" font-family='"Liberation Serif", "DejaVu Serif", serif' fill="#2e2e2e">Δ</text>
<text x="806.00" y="560.60" font-size="15.4" font-family='"Liberation Serif", "DejaVu Serif", serif' fill="#2e2e2e" >·</text>
<text transform="translate(813.01,560.00) scale(1.0858,1)" font-size="15.4" font-family='"Liberation Serif", "DejaVu Serif", serif' fill="#2e2e2e" font-weight="bold" >V</text>
<text x="829.80" y="560.00" font-size="15.4" font-family='"Liberation Serif", "DejaVu Serif", serif' fill="#2e2e2e" font-style="italic" >q</text>
<text x="837.40" y="562.60" font-size="10.6" font-family='"Liberation Serif", "DejaVu Serif", serif' fill="#2e2e2e" font-style="italic" >j</text>
<text transform="translate(843.49,560.56) scale(0.887,1.238)" font-size="18.00" font-family='"Liberation Serif", "DejaVu Serif", serif' fill="#2e2e2e">)</text>
<text x="850.40" y="566.20" font-size="10.6" font-family='"Liberation Serif", "DejaVu Serif", serif' fill="#2e2e2e" font-style="italic" >ζ</text>
<text transform="translate(860.80,559.60) scale(1.2978,1)" font-size="15.4" font-family='"Liberation Serif", "DejaVu Serif", serif' fill="#2e2e2e" >+</text>
<text transform="translate(877.59,560.00) scale(1.0502,1)" font-size="15.4" font-family='"Liberation Serif", "DejaVu Serif", serif' fill="#2e2e2e" font-style="italic" >F</text>
<text transform="translate(887.04,562.60) scale(1.1203,1)" font-size="10.6" font-family='"Liberation Serif", "DejaVu Serif", serif' fill="#2e2e2e" font-style="italic" >Q</text>
<text x="895.80" y="564.60" font-size="8" font-family='"Liberation Serif", "DejaVu Serif", serif' fill="#2e2e2e" font-style="italic" >j</text>
<text transform="translate(947.82,574.90) scale(1.0988,1)" font-size="16.4" font-family='"Liberation Sans", "DejaVu Sans", sans-serif' fill="#000" >Eulerian frame</text>
<line x1="57.40" y1="800.07" x2="422.20" y2="800.07" stroke="#dedede" stroke-width="1" />
<line x1="57.40" y1="773.13" x2="422.20" y2="773.13" stroke="#dedede" stroke-width="1" />
<line x1="57.40" y1="746.20" x2="422.20" y2="746.20" stroke="#dedede" stroke-width="1" />
<line x1="57.40" y1="719.27" x2="422.20" y2="719.27" stroke="#dedede" stroke-width="1" />
<line x1="57.40" y1="692.33" x2="422.20" y2="692.33" stroke="#dedede" stroke-width="1" />
<line x1="57.40" y1="665.40" x2="422.20" y2="665.40" stroke="#dedede" stroke-width="1" />
<line x1="57.40" y1="638.47" x2="422.20" y2="638.47" stroke="#dedede" stroke-width="1" />
<rect x="78.45" y="659.34" width="18.70" height="125.37" fill="#ffc000" />
<rect x="78.45" y="784.71" width="18.70" height="42.29" fill="#4472c4" />
<rect x="139.25" y="654.63" width="18.70" height="128.61" fill="#ffc000" />
<rect x="139.25" y="783.23" width="18.70" height="43.77" fill="#4472c4" />
<rect x="200.05" y="646.55" width="18.70" height="129.82" fill="#ffc000" />
<rect x="200.05" y="776.37" width="18.70" height="50.63" fill="#4472c4" />
<rect x="260.85" y="642.51" width="18.70" height="128.88" fill="#ffc000" />
<rect x="260.85" y="771.38" width="18.70" height="55.62" fill="#4472c4" />
<rect x="321.65" y="632.41" width="18.70" height="128.20" fill="#ffc000" />
<rect x="321.65" y="760.61" width="18.70" height="66.39" fill="#4472c4" />
<rect x="382.45" y="635.77" width="18.70" height="122.01" fill="#ffc000" />
<rect x="382.45" y="757.78" width="18.70" height="69.22" fill="#4472c4" />
<rect x="57.40" y="625.00" width="364.80" height="202.00" fill="none" stroke="#5f5f5f" stroke-width="1" />
<line x1="422.20" y1="827.00" x2="425.20" y2="827.00" stroke="#5f5f5f" stroke-width="0.8" />
<line x1="422.20" y1="786.60" x2="425.20" y2="786.60" stroke="#5f5f5f" stroke-width="0.8" />
<line x1="422.20" y1="746.20" x2="425.20" y2="746.20" stroke="#5f5f5f" stroke-width="0.8" />
<line x1="422.20" y1="705.80" x2="425.20" y2="705.80" stroke="#5f5f5f" stroke-width="0.8" />
<line x1="422.20" y1="665.40" x2="425.20" y2="665.40" stroke="#5f5f5f" stroke-width="0.8" />
<line x1="422.20" y1="625.00" x2="425.20" y2="625.00" stroke="#5f5f5f" stroke-width="0.8" />
<path d="M87.80,692.33 L148.60,696.37 L209.40,701.76 L270.20,704.45 L331.00,711.19 L391.80,708.49" fill="none" stroke="#636363" stroke-width="1.5" />
<circle cx="87.80" cy="692.33" r="3.1" fill="#fff" stroke="#4472c4" stroke-width="1.6" />
<circle cx="148.60" cy="696.37" r="3.1" fill="#fff" stroke="#4472c4" stroke-width="1.6" />
<circle cx="209.40" cy="701.76" r="3.1" fill="#fff" stroke="#4472c4" stroke-width="1.6" />
<circle cx="270.20" cy="704.45" r="3.1" fill="#fff" stroke="#4472c4" stroke-width="1.6" />
<circle cx="331.00" cy="711.19" r="3.1" fill="#fff" stroke="#4472c4" stroke-width="1.6" />
<circle cx="391.80" cy="708.49" r="3.1" fill="#fff" stroke="#4472c4" stroke-width="1.6" />
<text transform="translate(75.28,681.20) scale(0.9427,1)" font-size="10.4" font-family='"Liberation Sans", "DejaVu Sans", sans-serif' fill="#404040" font-weight="bold" >100%</text>
<text transform="translate(138.76,684.70) scale(0.9365,1)" font-size="10.4" font-family='"Liberation Sans", "DejaVu Sans", sans-serif' fill="#404040" font-weight="bold" >97%</text>
<text transform="translate(199.77,690.60) scale(0.9068,1)" font-size="10.4" font-family='"Liberation Sans", "DejaVu Sans", sans-serif' fill="#404040" font-weight="bold" >93%</text>
<text transform="translate(260.26,694.20) scale(0.9316,1)" font-size="10.4" font-family='"Liberation Sans", "DejaVu Sans", sans-serif' fill="#404040" font-weight="bold" >91%</text>
<text transform="translate(342.19,708.30) scale(0.9401,1)" font-size="10.4" font-family='"Liberation Sans", "DejaVu Sans", sans-serif' fill="#404040" font-weight="bold" >86%</text>
<text transform="translate(403.30,713.60) scale(0.9153,1)" font-size="10.4" font-family='"Liberation Sans", "DejaVu Sans", sans-serif' fill="#404040" font-weight="bold" >88%</text>
<text x="47.60" y="829.90" font-size="9.8" font-family='"Liberation Sans", "DejaVu Sans", sans-serif' fill="#595959" text-anchor="end" >0</text>
<text x="47.60" y="802.97" font-size="9.8" font-family='"Liberation Sans", "DejaVu Sans", sans-serif' fill="#595959" text-anchor="end" >2</text>
<text x="47.60" y="776.03" font-size="9.8" font-family='"Liberation Sans", "DejaVu Sans", sans-serif' fill="#595959" text-anchor="end" >4</text>
<text x="47.60" y="749.10" font-size="9.8" font-family='"Liberation Sans", "DejaVu Sans", sans-serif' fill="#595959" text-anchor="end" >6</text>
<text x="47.60" y="722.17" font-size="9.8" font-family='"Liberation Sans", "DejaVu Sans", sans-serif' fill="#595959" text-anchor="end" >8</text>
<text x="47.60" y="695.23" font-size="9.8" font-family='"Liberation Sans", "DejaVu Sans", sans-serif' fill="#595959" text-anchor="end" >10</text>
<text x="47.60" y="668.30" font-size="9.8" font-family='"Liberation Sans", "DejaVu Sans", sans-serif' fill="#595959" text-anchor="end" >12</text>
<text x="47.60" y="641.37" font-size="9.8" font-family='"Liberation Sans", "DejaVu Sans", sans-serif' fill="#595959" text-anchor="end" >14</text>
<text x="431.60" y="830.30" font-size="9.4" font-family='"Liberation Sans", "DejaVu Sans", sans-serif' fill="#595959" >0%</text>
<text x="431.60" y="789.90" font-size="9.4" font-family='"Liberation Sans", "DejaVu Sans", sans-serif' fill="#595959" >30%</text>
<text x="431.60" y="749.50" font-size="9.4" font-family='"Liberation Sans", "DejaVu Sans", sans-serif' fill="#595959" >60%</text>
<text x="431.60" y="709.10" font-size="9.4" font-family='"Liberation Sans", "DejaVu Sans", sans-serif' fill="#595959" >90%</text>
<text x="431.60" y="668.70" font-size="9.4" font-family='"Liberation Sans", "DejaVu Sans", sans-serif' fill="#595959" >120%</text>
<text x="431.60" y="628.30" font-size="9.4" font-family='"Liberation Sans", "DejaVu Sans", sans-serif' fill="#595959" >150%</text>
<text transform="translate(74.29,844.20) scale(0.9835,1)" font-size="9.8" font-family='"Liberation Sans", "DejaVu Sans", sans-serif' fill="#595959" font-weight="bold" >10000</text>
<text transform="translate(135.37,844.20) scale(0.9732,1)" font-size="9.8" font-family='"Liberation Sans", "DejaVu Sans", sans-serif' fill="#595959" font-weight="bold" >20000</text>
<text transform="translate(196.36,844.20) scale(0.9662,1)" font-size="9.8" font-family='"Liberation Sans", "DejaVu Sans", sans-serif' fill="#595959" font-weight="bold" >40000</text>
<text transform="translate(256.95,844.20) scale(0.9739,1)" font-size="9.8" font-family='"Liberation Sans", "DejaVu Sans", sans-serif' fill="#595959" font-weight="bold" >60000</text>
<text transform="translate(317.80,844.20) scale(0.9722,1)" font-size="9.8" font-family='"Liberation Sans", "DejaVu Sans", sans-serif' fill="#595959" font-weight="bold" >80000</text>
<text transform="translate(375.70,844.20) scale(0.9785,1)" font-size="9.8" font-family='"Liberation Sans", "DejaVu Sans", sans-serif' fill="#595959" font-weight="bold" >100000</text>
<text transform="translate(229.34,863.30) scale(0.9855,1)" font-size="13.2" font-family='"Liberation Sans", "DejaVu Sans", sans-serif' fill="#595959" >CPU</text>
<text transform="translate(30.0,761.6) rotate(-90)" font-size="9.8" font-family='"Liberation Sans", "DejaVu Sans", sans-serif' fill="#595959" textLength="71.6" lengthAdjust="spacingAndGlyphs">Time per step(s)</text>
<text transform="translate(467,771) rotate(-90)" font-size="9.8" font-family='"Liberation Sans", "DejaVu Sans", sans-serif' fill="#595959" textLength="91.5" lengthAdjust="spacingAndGlyphs">Parallel Efficiency(%)</text>
<rect x="98.60" y="875.30" width="18.70" height="5.00" fill="#4472c4" />
<text transform="translate(119.45,880.20) scale(0.9774,1)" font-size="8.8" font-family='"Liberation Sans", "DejaVu Sans", sans-serif' fill="#404040" font-weight="bold" >Communication</text>
<rect x="200.50" y="875.30" width="18.70" height="5.00" fill="#ffc000" />
<text transform="translate(220.54,880.20) scale(1.0047,1)" font-size="8.8" font-family='"Liberation Sans", "DejaVu Sans", sans-serif' fill="#404040" font-weight="bold" >Computation</text>
<line x1="290.00" y1="877.60" x2="310.00" y2="877.60" stroke="#636363" stroke-width="1.5" />
<circle cx="299.80" cy="877.60" r="2.8" fill="#fff" stroke="#4472c4" stroke-width="1.5" />
<text transform="translate(310.53,880.20) scale(0.9617,1)" font-size="8.8" font-family='"Liberation Sans", "DejaVu Sans", sans-serif' fill="#404040" font-weight="bold" >Parallel Efficiency</text>
<line x1="694.30" y1="812.64" x2="1072.00" y2="812.64" stroke="#808080" stroke-width="1.1" />
<line x1="694.30" y1="791.68" x2="1072.00" y2="791.68" stroke="#808080" stroke-width="1.1" />
<line x1="694.30" y1="770.72" x2="1072.00" y2="770.72" stroke="#808080" stroke-width="1.1" />
<line x1="694.30" y1="749.76" x2="1072.00" y2="749.76" stroke="#808080" stroke-width="1.1" />
<line x1="694.30" y1="728.80" x2="1072.00" y2="728.80" stroke="#808080" stroke-width="1.1" />
<line x1="694.30" y1="707.84" x2="1072.00" y2="707.84" stroke="#808080" stroke-width="1.1" />
<line x1="694.30" y1="686.88" x2="1072.00" y2="686.88" stroke="#808080" stroke-width="1.1" />
<line x1="694.30" y1="665.92" x2="1072.00" y2="665.92" stroke="#808080" stroke-width="1.1" />
<line x1="694.30" y1="644.96" x2="1072.00" y2="644.96" stroke="#808080" stroke-width="1.1" />
<rect x="712.88" y="822.49" width="16.80" height="11.11" fill="#ffc000" />
<rect x="766.84" y="811.17" width="16.80" height="22.43" fill="#ffc000" />
<rect x="820.79" y="788.96" width="16.80" height="44.64" fill="#ffc000" />
<rect x="874.75" y="745.78" width="16.80" height="87.82" fill="#ffc000" />
<rect x="928.71" y="706.16" width="16.80" height="127.44" fill="#ffc000" />
<rect x="982.66" y="681.43" width="16.80" height="152.17" fill="#ffc000" />
<rect x="1036.62" y="660.68" width="16.80" height="172.92" fill="#ffc000" />
<rect x="694.30" y="624.00" width="377.70" height="209.60" fill="none" stroke="#262626" stroke-width="1.3" />
<line x1="1072.00" y1="833.60" x2="1075.40" y2="833.60" stroke="#262626" stroke-width="0.9" />
<line x1="1072.00" y1="798.67" x2="1075.40" y2="798.67" stroke="#262626" stroke-width="0.9" />
<line x1="1072.00" y1="763.73" x2="1075.40" y2="763.73" stroke="#262626" stroke-width="0.9" />
<line x1="1072.00" y1="728.80" x2="1075.40" y2="728.80" stroke="#262626" stroke-width="0.9" />
<line x1="1072.00" y1="693.87" x2="1075.40" y2="693.87" stroke="#262626" stroke-width="0.9" />
<line x1="1072.00" y1="658.93" x2="1075.40" y2="658.93" stroke="#262626" stroke-width="0.9" />
<line x1="1072.00" y1="624.00" x2="1075.40" y2="624.00" stroke="#262626" stroke-width="0.9" />
<path d="M721.28,658.93 L775.24,660.68 L829.19,660.68 L883.15,664.17 L937.11,671.16 L991.06,686.88 L1045.02,700.85" fill="none" stroke="#a5a5a5" stroke-width="1.1" />
<circle cx="721.28" cy="658.93" r="3.2" fill="#fff" stroke="#4472c4" stroke-width="1.6" />
<circle cx="775.24" cy="660.68" r="3.2" fill="#fff" stroke="#4472c4" stroke-width="1.6" />
<circle cx="829.19" cy="660.68" r="3.2" fill="#fff" stroke="#4472c4" stroke-width="1.6" />
<circle cx="883.15" cy="664.17" r="3.2" fill="#fff" stroke="#4472c4" stroke-width="1.6" />
<circle cx="937.11" cy="671.16" r="3.2" fill="#fff" stroke="#4472c4" stroke-width="1.6" />
<circle cx="991.06" cy="686.88" r="3.2" fill="#fff" stroke="#4472c4" stroke-width="1.6" />
<circle cx="1045.02" cy="700.85" r="3.2" fill="#fff" stroke="#4472c4" stroke-width="1.6" />
<text transform="translate(708.46,647.20) scale(0.9890,1)" font-size="10.2" font-family='"Liberation Sans", "DejaVu Sans", sans-serif' fill="#111" font-weight="bold" >100%</text>
<text transform="translate(765.56,648.80) scale(0.9549,1)" font-size="10.2" font-family='"Liberation Sans", "DejaVu Sans", sans-serif' fill="#111" font-weight="bold" >99%</text>
<text transform="translate(819.16,649.20) scale(0.9549,1)" font-size="10.2" font-family='"Liberation Sans", "DejaVu Sans", sans-serif' fill="#111" font-weight="bold" >99%</text>
<text transform="translate(872.75,653.30) scale(0.9802,1)" font-size="10.2" font-family='"Liberation Sans", "DejaVu Sans", sans-serif' fill="#111" font-weight="bold" >97%</text>
<text transform="translate(926.55,659.00) scale(0.9802,1)" font-size="10.2" font-family='"Liberation Sans", "DejaVu Sans", sans-serif' fill="#111" font-weight="bold" >93%</text>
<text transform="translate(980.48,675.70) scale(0.9989,1)" font-size="10.2" font-family='"Liberation Sans", "DejaVu Sans", sans-serif' fill="#111" font-weight="bold" >84%</text>
<text transform="translate(1034.88,689.10) scale(0.9590,1)" font-size="10.2" font-family='"Liberation Sans", "DejaVu Sans", sans-serif' fill="#111" font-weight="bold" >76%</text>
<text transform="translate(710.02,831.60) scale(1.1054,1)" font-size="10.4" font-family='"Liberation Sans", "DejaVu Sans", sans-serif' fill="#111" font-weight="bold" >0.05</text>
<text transform="translate(763.98,825.70) scale(1.1054,1)" font-size="10.4" font-family='"Liberation Sans", "DejaVu Sans", sans-serif' fill="#111" font-weight="bold" >0.11</text>
<text transform="translate(817.94,815.18) scale(1.1054,1)" font-size="10.4" font-family='"Liberation Sans", "DejaVu Sans", sans-serif' fill="#111" font-weight="bold" >0.21</text>
<text transform="translate(871.89,793.59) scale(1.1126,1)" font-size="10.4" font-family='"Liberation Sans", "DejaVu Sans", sans-serif' fill="#111" font-weight="bold" >0.42</text>
<text transform="translate(925.85,773.78) scale(1.1054,1)" font-size="10.4" font-family='"Liberation Sans", "DejaVu Sans", sans-serif' fill="#111" font-weight="bold" >0.61</text>
<text transform="translate(979.81,761.42) scale(1.1126,1)" font-size="10.4" font-family='"Liberation Sans", "DejaVu Sans", sans-serif' fill="#111" font-weight="bold" >0.72</text>
<text transform="translate(1033.76,751.04) scale(1.1126,1)" font-size="10.4" font-family='"Liberation Sans", "DejaVu Sans", sans-serif' fill="#111" font-weight="bold" >0.82</text>
<text x="682.60" y="837.20" font-size="10.6" font-family='"Liberation Sans", "DejaVu Sans", sans-serif' fill="#595959" text-anchor="end" >0</text>
<text x="682.60" y="816.24" font-size="10.6" font-family='"Liberation Sans", "DejaVu Sans", sans-serif' fill="#595959" text-anchor="end" >0.1</text>
<text x="682.60" y="795.28" font-size="10.6" font-family='"Liberation Sans", "DejaVu Sans", sans-serif' fill="#595959" text-anchor="end" >0.2</text>
<text x="682.60" y="774.32" font-size="10.6" font-family='"Liberation Sans", "DejaVu Sans", sans-serif' fill="#595959" text-anchor="end" >0.3</text>
<text x="682.60" y="753.36" font-size="10.6" font-family='"Liberation Sans", "DejaVu Sans", sans-serif' fill="#595959" text-anchor="end" >0.4</text>
<text x="682.60" y="732.40" font-size="10.6" font-family='"Liberation Sans", "DejaVu Sans", sans-serif' fill="#595959" text-anchor="end" >0.5</text>
<text x="682.60" y="711.44" font-size="10.6" font-family='"Liberation Sans", "DejaVu Sans", sans-serif' fill="#595959" text-anchor="end" >0.6</text>
<text x="682.60" y="690.48" font-size="10.6" font-family='"Liberation Sans", "DejaVu Sans", sans-serif' fill="#595959" text-anchor="end" >0.7</text>
<text x="682.60" y="669.52" font-size="10.6" font-family='"Liberation Sans", "DejaVu Sans", sans-serif' fill="#595959" text-anchor="end" >0.8</text>
<text x="682.60" y="648.56" font-size="10.6" font-family='"Liberation Sans", "DejaVu Sans", sans-serif' fill="#595959" text-anchor="end" >0.9</text>
<text x="682.60" y="627.60" font-size="10.6" font-family='"Liberation Sans", "DejaVu Sans", sans-serif' fill="#595959" text-anchor="end" >1</text>
<text x="1082.20" y="836.60" font-size="9.8" font-family='"Liberation Sans", "DejaVu Sans", sans-serif' fill="#6b6b6b" >0%</text>
<text x="1082.20" y="801.67" font-size="9.8" font-family='"Liberation Sans", "DejaVu Sans", sans-serif' fill="#6b6b6b" >20%</text>
<text x="1082.20" y="766.73" font-size="9.8" font-family='"Liberation Sans", "DejaVu Sans", sans-serif' fill="#6b6b6b" >40%</text>
<text x="1082.20" y="731.80" font-size="9.8" font-family='"Liberation Sans", "DejaVu Sans", sans-serif' fill="#6b6b6b" >60%</text>
<text x="1082.20" y="696.87" font-size="9.8" font-family='"Liberation Sans", "DejaVu Sans", sans-serif' fill="#6b6b6b" >80%</text>
<text x="1082.20" y="661.93" font-size="9.8" font-family='"Liberation Sans", "DejaVu Sans", sans-serif' fill="#6b6b6b" >100%</text>
<text x="1082.20" y="627.00" font-size="9.8" font-family='"Liberation Sans", "DejaVu Sans", sans-serif' fill="#6b6b6b" >120%</text>
<text transform="translate(710.07,851.10) scale(1.0126,1)" font-size="10" font-family='"Liberation Sans", "DejaVu Sans", sans-serif' fill="#595959" font-weight="bold" >5000</text>
<text transform="translate(761.00,851.10) scale(1.0162,1)" font-size="10" font-family='"Liberation Sans", "DejaVu Sans", sans-serif' fill="#595959" font-weight="bold" >10000</text>
<text transform="translate(815.24,851.10) scale(1.0055,1)" font-size="10" font-family='"Liberation Sans", "DejaVu Sans", sans-serif' fill="#595959" font-weight="bold" >20000</text>
<text transform="translate(869.40,851.10) scale(0.9983,1)" font-size="10" font-family='"Liberation Sans", "DejaVu Sans", sans-serif' fill="#595959" font-weight="bold" >40000</text>
<text transform="translate(923.14,851.10) scale(1.0062,1)" font-size="10" font-family='"Liberation Sans", "DejaVu Sans", sans-serif' fill="#595959" font-weight="bold" >60000</text>
<text transform="translate(977.15,851.10) scale(1.0044,1)" font-size="10" font-family='"Liberation Sans", "DejaVu Sans", sans-serif' fill="#595959" font-weight="bold" >80000</text>
<text transform="translate(1028.09,851.10) scale(1.0084,1)" font-size="10" font-family='"Liberation Sans", "DejaVu Sans", sans-serif' fill="#595959" font-weight="bold" >100000</text>
<text transform="translate(880.11,871.10) scale(0.9546,1)" font-size="12.2" font-family='"Liberation Sans", "DejaVu Sans", sans-serif' fill="#595959" >CPU</text>
<text transform="translate(660.4,798.1) rotate(-90)" font-size="12.4" font-family='"Liberation Sans", "DejaVu Sans", sans-serif' fill="#333" textLength="139.8" lengthAdjust="spacingAndGlyphs">Simulated Day per Hour</text>
<text transform="translate(1124.4,788.3) rotate(-90)" font-size="12.4" font-family='"Liberation Sans", "DejaVu Sans", sans-serif' fill="#333" textLength="120.1" lengthAdjust="spacingAndGlyphs">Parallel Efficiency(%)</text>
<rect x="767.60" y="883.20" width="20.40" height="5.40" fill="#ffc000" />
<text transform="translate(789.64,888.80) scale(1.0351,1)" font-size="8.8" font-family='"Liberation Sans", "DejaVu Sans", sans-serif' fill="#595959" font-weight="bold" >Simulated Day per Hour</text>
<line x1="910.70" y1="886.00" x2="931.10" y2="886.00" stroke="#8c8c8c" stroke-width="1.2" />
<circle cx="920.80" cy="886.00" r="2.8" fill="#fff" stroke="#4472c4" stroke-width="1.5" />
<text transform="translate(932.31,888.80) scale(1.0061,1)" font-size="8.8" font-family='"Liberation Sans", "DejaVu Sans", sans-serif' fill="#595959" font-weight="bold" >Parallel Efficiency</text>
</svg>
</body></html>
